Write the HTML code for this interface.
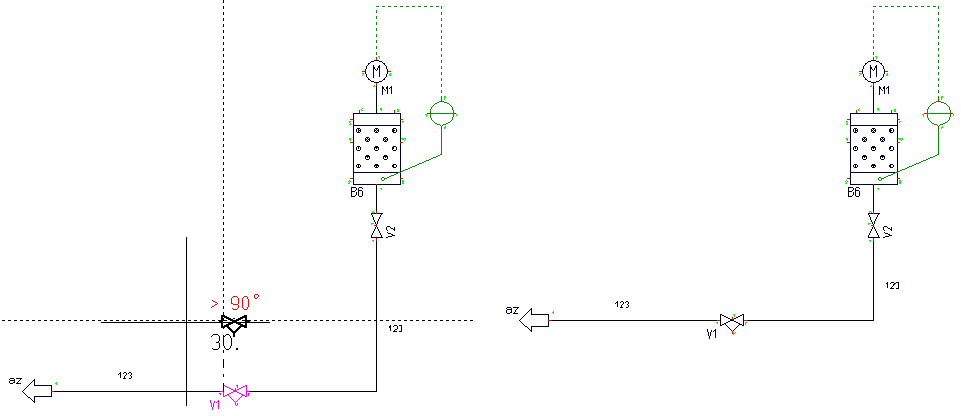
<!DOCTYPE html>
<html><head><meta charset="utf-8"><style>
html,body{margin:0;padding:0;background:#fff;width:961px;height:416px;overflow:hidden}
svg{position:absolute;left:0;top:0}
</style></head><body>
<svg width="961" height="416" viewBox="0 0 961 416" shape-rendering="crispEdges">
<rect x="376" y="6" width="3" height="1" fill="#009600"/>
<rect x="382" y="6" width="3" height="1" fill="#009600"/>
<rect x="388" y="6" width="3" height="1" fill="#009600"/>
<rect x="394" y="6" width="3" height="1" fill="#009600"/>
<rect x="400" y="6" width="3" height="1" fill="#009600"/>
<rect x="406" y="6" width="3" height="1" fill="#009600"/>
<rect x="412" y="6" width="3" height="1" fill="#009600"/>
<rect x="418" y="6" width="3" height="1" fill="#009600"/>
<rect x="424" y="6" width="3" height="1" fill="#009600"/>
<rect x="430" y="6" width="3" height="1" fill="#009600"/>
<rect x="436" y="6" width="3" height="1" fill="#009600"/>
<rect x="376" y="10" width="1" height="3" fill="#009600"/>
<rect x="376" y="16" width="1" height="3" fill="#009600"/>
<rect x="376" y="22" width="1" height="3" fill="#009600"/>
<rect x="376" y="28" width="1" height="3" fill="#009600"/>
<rect x="376" y="34" width="1" height="3" fill="#009600"/>
<rect x="376" y="40" width="1" height="3" fill="#009600"/>
<rect x="376" y="46" width="1" height="3" fill="#009600"/>
<rect x="376" y="52" width="1" height="3" fill="#009600"/>
<rect x="441" y="6" width="1" height="3" fill="#009600"/>
<rect x="441" y="12" width="1" height="3" fill="#009600"/>
<rect x="441" y="18" width="1" height="3" fill="#009600"/>
<rect x="441" y="24" width="1" height="3" fill="#009600"/>
<rect x="441" y="30" width="1" height="3" fill="#009600"/>
<rect x="441" y="36" width="1" height="3" fill="#009600"/>
<rect x="441" y="42" width="1" height="3" fill="#009600"/>
<rect x="441" y="48" width="1" height="3" fill="#009600"/>
<rect x="441" y="54" width="1" height="3" fill="#009600"/>
<rect x="441" y="60" width="1" height="3" fill="#009600"/>
<rect x="441" y="66" width="1" height="3" fill="#009600"/>
<rect x="441" y="72" width="1" height="3" fill="#009600"/>
<rect x="441" y="78" width="1" height="3" fill="#009600"/>
<rect x="441" y="84" width="1" height="3" fill="#009600"/>
<rect x="441" y="90" width="1" height="3" fill="#009600"/>
<rect x="441" y="96" width="1" height="3" fill="#009600"/>
<rect x="365" y="69" width="1" height="1" fill="#000028"/>
<rect x="365" y="70" width="1" height="1" fill="#000028"/>
<rect x="365" y="71" width="1" height="1" fill="#000028"/>
<rect x="365" y="72" width="1" height="1" fill="#000028"/>
<rect x="365" y="73" width="1" height="1" fill="#000028"/>
<rect x="366" y="66" width="1" height="1" fill="#000028"/>
<rect x="366" y="67" width="1" height="1" fill="#000028"/>
<rect x="366" y="68" width="1" height="1" fill="#000028"/>
<rect x="366" y="74" width="1" height="1" fill="#000028"/>
<rect x="366" y="75" width="1" height="1" fill="#000028"/>
<rect x="366" y="76" width="1" height="1" fill="#000028"/>
<rect x="367" y="65" width="1" height="1" fill="#000028"/>
<rect x="367" y="77" width="1" height="1" fill="#000028"/>
<rect x="368" y="63" width="1" height="1" fill="#000028"/>
<rect x="368" y="64" width="1" height="1" fill="#000028"/>
<rect x="368" y="78" width="1" height="1" fill="#000028"/>
<rect x="368" y="79" width="1" height="1" fill="#000028"/>
<rect x="369" y="63" width="1" height="1" fill="#000028"/>
<rect x="369" y="79" width="1" height="1" fill="#000028"/>
<rect x="370" y="62" width="1" height="1" fill="#000028"/>
<rect x="370" y="80" width="1" height="1" fill="#000028"/>
<rect x="371" y="61" width="1" height="1" fill="#000028"/>
<rect x="371" y="81" width="1" height="1" fill="#000028"/>
<rect x="372" y="61" width="1" height="1" fill="#000028"/>
<rect x="372" y="81" width="1" height="1" fill="#000028"/>
<rect x="373" y="61" width="1" height="1" fill="#000028"/>
<rect x="373" y="81" width="1" height="1" fill="#000028"/>
<rect x="374" y="60" width="1" height="1" fill="#000028"/>
<rect x="374" y="82" width="1" height="1" fill="#000028"/>
<rect x="375" y="60" width="1" height="1" fill="#000028"/>
<rect x="375" y="82" width="1" height="1" fill="#000028"/>
<rect x="376" y="60" width="1" height="1" fill="#000028"/>
<rect x="376" y="82" width="1" height="1" fill="#000028"/>
<rect x="377" y="60" width="1" height="1" fill="#000028"/>
<rect x="377" y="82" width="1" height="1" fill="#000028"/>
<rect x="378" y="60" width="1" height="1" fill="#000028"/>
<rect x="378" y="82" width="1" height="1" fill="#000028"/>
<rect x="379" y="61" width="1" height="1" fill="#000028"/>
<rect x="379" y="81" width="1" height="1" fill="#000028"/>
<rect x="380" y="61" width="1" height="1" fill="#000028"/>
<rect x="380" y="81" width="1" height="1" fill="#000028"/>
<rect x="381" y="61" width="1" height="1" fill="#000028"/>
<rect x="381" y="81" width="1" height="1" fill="#000028"/>
<rect x="382" y="62" width="1" height="1" fill="#000028"/>
<rect x="382" y="80" width="1" height="1" fill="#000028"/>
<rect x="383" y="63" width="1" height="1" fill="#000028"/>
<rect x="383" y="79" width="1" height="1" fill="#000028"/>
<rect x="384" y="63" width="1" height="1" fill="#000028"/>
<rect x="384" y="64" width="1" height="1" fill="#000028"/>
<rect x="384" y="78" width="1" height="1" fill="#000028"/>
<rect x="384" y="79" width="1" height="1" fill="#000028"/>
<rect x="385" y="65" width="1" height="1" fill="#000028"/>
<rect x="385" y="77" width="1" height="1" fill="#000028"/>
<rect x="386" y="66" width="1" height="1" fill="#000028"/>
<rect x="386" y="67" width="1" height="1" fill="#000028"/>
<rect x="386" y="68" width="1" height="1" fill="#000028"/>
<rect x="386" y="74" width="1" height="1" fill="#000028"/>
<rect x="386" y="75" width="1" height="1" fill="#000028"/>
<rect x="386" y="76" width="1" height="1" fill="#000028"/>
<rect x="387" y="69" width="1" height="1" fill="#000028"/>
<rect x="387" y="70" width="1" height="1" fill="#000028"/>
<rect x="387" y="71" width="1" height="1" fill="#000028"/>
<rect x="387" y="72" width="1" height="1" fill="#000028"/>
<rect x="387" y="73" width="1" height="1" fill="#000028"/>
<rect x="373" y="65" width="1" height="1" fill="#000028"/>
<rect x="379" y="65" width="1" height="1" fill="#000028"/>
<rect x="373" y="66" width="1" height="1" fill="#000028"/>
<rect x="378" y="66" width="2" height="1" fill="#000028"/>
<rect x="373" y="67" width="2" height="1" fill="#000028"/>
<rect x="378" y="67" width="2" height="1" fill="#000028"/>
<rect x="373" y="68" width="2" height="1" fill="#000028"/>
<rect x="377" y="68" width="1" height="1" fill="#000028"/>
<rect x="379" y="68" width="1" height="1" fill="#000028"/>
<rect x="373" y="69" width="1" height="1" fill="#000028"/>
<rect x="375" y="69" width="1" height="1" fill="#000028"/>
<rect x="377" y="69" width="1" height="1" fill="#000028"/>
<rect x="379" y="69" width="1" height="1" fill="#000028"/>
<rect x="373" y="70" width="1" height="1" fill="#000028"/>
<rect x="376" y="70" width="1" height="1" fill="#000028"/>
<rect x="379" y="70" width="1" height="1" fill="#000028"/>
<rect x="373" y="71" width="1" height="1" fill="#000028"/>
<rect x="379" y="71" width="1" height="1" fill="#000028"/>
<rect x="373" y="72" width="1" height="1" fill="#000028"/>
<rect x="379" y="72" width="1" height="1" fill="#000028"/>
<rect x="373" y="73" width="1" height="1" fill="#000028"/>
<rect x="379" y="73" width="1" height="1" fill="#000028"/>
<rect x="373" y="74" width="1" height="1" fill="#000028"/>
<rect x="379" y="74" width="1" height="1" fill="#000028"/>
<rect x="373" y="75" width="1" height="1" fill="#000028"/>
<rect x="379" y="75" width="1" height="1" fill="#000028"/>
<rect x="373" y="76" width="1" height="1" fill="#000028"/>
<rect x="379" y="76" width="1" height="1" fill="#000028"/>
<rect x="373" y="77" width="1" height="1" fill="#000028"/>
<rect x="376" y="57" width="1" height="3" fill="#ff0000"/>
<rect x="362" y="71" width="3" height="1" fill="#ff0000"/>
<rect x="388" y="71" width="3" height="1" fill="#ff0000"/>
<rect x="376" y="83" width="1" height="3" fill="#ff0000"/>
<rect x="378" y="56" width="2" height="1" fill="#00ff00"/>
<rect x="379" y="57" width="1" height="1" fill="#00ff00"/>
<rect x="379" y="58" width="1" height="1" fill="#00ff00"/>
<rect x="362" y="73" width="2" height="1" fill="#00ff00"/>
<rect x="363" y="74" width="1" height="1" fill="#00ff00"/>
<rect x="362" y="75" width="1" height="1" fill="#00ff00"/>
<rect x="390" y="73" width="1" height="1" fill="#00ff00"/>
<rect x="389" y="74" width="2" height="1" fill="#00ff00"/>
<rect x="389" y="75" width="2" height="1" fill="#00ff00"/>
<rect x="374" y="85" width="1" height="1" fill="#00ff00"/>
<rect x="373" y="86" width="2" height="1" fill="#00ff00"/>
<rect x="376" y="86" width="1" height="27" fill="#000"/>
<rect x="382" y="86" width="1" height="1" fill="#000028"/>
<rect x="387" y="86" width="1" height="1" fill="#000028"/>
<rect x="391" y="86" width="1" height="1" fill="#000028"/>
<rect x="382" y="87" width="2" height="1" fill="#000028"/>
<rect x="386" y="87" width="2" height="1" fill="#000028"/>
<rect x="390" y="87" width="2" height="1" fill="#000028"/>
<rect x="382" y="88" width="2" height="1" fill="#000028"/>
<rect x="386" y="88" width="2" height="1" fill="#000028"/>
<rect x="389" y="88" width="1" height="1" fill="#000028"/>
<rect x="391" y="88" width="1" height="1" fill="#000028"/>
<rect x="382" y="89" width="1" height="1" fill="#000028"/>
<rect x="384" y="89" width="1" height="1" fill="#000028"/>
<rect x="387" y="89" width="1" height="1" fill="#000028"/>
<rect x="391" y="89" width="1" height="1" fill="#000028"/>
<rect x="382" y="90" width="1" height="1" fill="#000028"/>
<rect x="385" y="90" width="1" height="1" fill="#000028"/>
<rect x="387" y="90" width="1" height="1" fill="#000028"/>
<rect x="391" y="90" width="1" height="1" fill="#000028"/>
<rect x="382" y="91" width="1" height="1" fill="#000028"/>
<rect x="387" y="91" width="1" height="1" fill="#000028"/>
<rect x="391" y="91" width="1" height="1" fill="#000028"/>
<rect x="382" y="92" width="1" height="1" fill="#000028"/>
<rect x="387" y="92" width="1" height="1" fill="#000028"/>
<rect x="391" y="92" width="1" height="1" fill="#000028"/>
<rect x="382" y="93" width="1" height="1" fill="#000028"/>
<rect x="387" y="93" width="1" height="1" fill="#000028"/>
<rect x="391" y="93" width="1" height="1" fill="#000028"/>
<rect x="382" y="94" width="1" height="1" fill="#000028"/>
<rect x="353" y="113" width="48" height="1" fill="#000028"/>
<rect x="353" y="184" width="48" height="1" fill="#000028"/>
<rect x="353" y="113" width="1" height="72" fill="#000028"/>
<rect x="400" y="113" width="1" height="72" fill="#000028"/>
<rect x="353" y="125" width="48" height="1" fill="#000028"/>
<rect x="353" y="172" width="48" height="1" fill="#000028"/>
<rect x="357" y="128" width="3" height="1" fill="#000028"/>
<rect x="356" y="129" width="1" height="1" fill="#000028"/>
<rect x="360" y="129" width="1" height="1" fill="#000028"/>
<rect x="356" y="130" width="1" height="1" fill="#000028"/>
<rect x="360" y="130" width="1" height="1" fill="#000028"/>
<rect x="356" y="131" width="1" height="1" fill="#000028"/>
<rect x="360" y="131" width="1" height="1" fill="#000028"/>
<rect x="357" y="132" width="3" height="1" fill="#000028"/>
<rect x="358" y="129" width="1" height="1" fill="#000028"/>
<rect x="358" y="130" width="2" height="1" fill="#000028"/>
<rect x="358" y="131" width="1" height="1" fill="#000028"/>
<rect x="375" y="128" width="3" height="1" fill="#000028"/>
<rect x="374" y="129" width="1" height="1" fill="#000028"/>
<rect x="378" y="129" width="1" height="1" fill="#000028"/>
<rect x="374" y="130" width="1" height="1" fill="#000028"/>
<rect x="378" y="130" width="1" height="1" fill="#000028"/>
<rect x="374" y="131" width="1" height="1" fill="#000028"/>
<rect x="378" y="131" width="1" height="1" fill="#000028"/>
<rect x="375" y="132" width="3" height="1" fill="#000028"/>
<rect x="376" y="129" width="1" height="1" fill="#000028"/>
<rect x="375" y="130" width="1" height="1" fill="#000028"/>
<rect x="377" y="130" width="1" height="1" fill="#000028"/>
<rect x="376" y="131" width="1" height="1" fill="#000028"/>
<rect x="393" y="128" width="3" height="1" fill="#000028"/>
<rect x="392" y="129" width="1" height="1" fill="#000028"/>
<rect x="396" y="129" width="1" height="1" fill="#000028"/>
<rect x="392" y="130" width="1" height="1" fill="#000028"/>
<rect x="396" y="130" width="1" height="1" fill="#000028"/>
<rect x="392" y="131" width="1" height="1" fill="#000028"/>
<rect x="396" y="131" width="1" height="1" fill="#000028"/>
<rect x="393" y="132" width="3" height="1" fill="#000028"/>
<rect x="393" y="129" width="1" height="1" fill="#000028"/>
<rect x="393" y="130" width="2" height="1" fill="#000028"/>
<rect x="393" y="131" width="1" height="1" fill="#000028"/>
<rect x="366" y="137" width="3" height="1" fill="#000028"/>
<rect x="365" y="138" width="1" height="1" fill="#000028"/>
<rect x="369" y="138" width="1" height="1" fill="#000028"/>
<rect x="365" y="139" width="1" height="1" fill="#000028"/>
<rect x="369" y="139" width="1" height="1" fill="#000028"/>
<rect x="365" y="140" width="1" height="1" fill="#000028"/>
<rect x="369" y="140" width="1" height="1" fill="#000028"/>
<rect x="366" y="141" width="3" height="1" fill="#000028"/>
<rect x="367" y="138" width="1" height="1" fill="#000028"/>
<rect x="366" y="139" width="1" height="1" fill="#000028"/>
<rect x="368" y="139" width="1" height="1" fill="#000028"/>
<rect x="367" y="140" width="1" height="1" fill="#000028"/>
<rect x="384" y="137" width="3" height="1" fill="#000028"/>
<rect x="383" y="138" width="1" height="1" fill="#000028"/>
<rect x="387" y="138" width="1" height="1" fill="#000028"/>
<rect x="383" y="139" width="1" height="1" fill="#000028"/>
<rect x="387" y="139" width="1" height="1" fill="#000028"/>
<rect x="383" y="140" width="1" height="1" fill="#000028"/>
<rect x="387" y="140" width="1" height="1" fill="#000028"/>
<rect x="384" y="141" width="3" height="1" fill="#000028"/>
<rect x="385" y="138" width="1" height="1" fill="#000028"/>
<rect x="384" y="139" width="1" height="1" fill="#000028"/>
<rect x="386" y="139" width="1" height="1" fill="#000028"/>
<rect x="385" y="140" width="1" height="1" fill="#000028"/>
<rect x="357" y="146" width="3" height="1" fill="#000028"/>
<rect x="356" y="147" width="1" height="1" fill="#000028"/>
<rect x="360" y="147" width="1" height="1" fill="#000028"/>
<rect x="356" y="148" width="1" height="1" fill="#000028"/>
<rect x="360" y="148" width="1" height="1" fill="#000028"/>
<rect x="356" y="149" width="1" height="1" fill="#000028"/>
<rect x="360" y="149" width="1" height="1" fill="#000028"/>
<rect x="357" y="150" width="3" height="1" fill="#000028"/>
<rect x="358" y="147" width="1" height="1" fill="#000028"/>
<rect x="358" y="148" width="1" height="1" fill="#000028"/>
<rect x="375" y="146" width="3" height="1" fill="#000028"/>
<rect x="374" y="147" width="1" height="1" fill="#000028"/>
<rect x="378" y="147" width="1" height="1" fill="#000028"/>
<rect x="374" y="148" width="1" height="1" fill="#000028"/>
<rect x="378" y="148" width="1" height="1" fill="#000028"/>
<rect x="374" y="149" width="1" height="1" fill="#000028"/>
<rect x="378" y="149" width="1" height="1" fill="#000028"/>
<rect x="375" y="150" width="3" height="1" fill="#000028"/>
<rect x="375" y="147" width="3" height="1" fill="#000028"/>
<rect x="376" y="148" width="1" height="1" fill="#000028"/>
<rect x="393" y="146" width="3" height="1" fill="#000028"/>
<rect x="392" y="147" width="1" height="1" fill="#000028"/>
<rect x="396" y="147" width="1" height="1" fill="#000028"/>
<rect x="392" y="148" width="1" height="1" fill="#000028"/>
<rect x="396" y="148" width="1" height="1" fill="#000028"/>
<rect x="392" y="149" width="1" height="1" fill="#000028"/>
<rect x="396" y="149" width="1" height="1" fill="#000028"/>
<rect x="393" y="150" width="3" height="1" fill="#000028"/>
<rect x="393" y="147" width="1" height="1" fill="#000028"/>
<rect x="393" y="148" width="1" height="1" fill="#000028"/>
<rect x="366" y="155" width="3" height="1" fill="#000028"/>
<rect x="365" y="156" width="1" height="1" fill="#000028"/>
<rect x="369" y="156" width="1" height="1" fill="#000028"/>
<rect x="365" y="157" width="1" height="1" fill="#000028"/>
<rect x="369" y="157" width="1" height="1" fill="#000028"/>
<rect x="365" y="158" width="1" height="1" fill="#000028"/>
<rect x="369" y="158" width="1" height="1" fill="#000028"/>
<rect x="366" y="159" width="3" height="1" fill="#000028"/>
<rect x="366" y="156" width="3" height="1" fill="#000028"/>
<rect x="367" y="157" width="1" height="1" fill="#000028"/>
<rect x="384" y="155" width="3" height="1" fill="#000028"/>
<rect x="383" y="156" width="1" height="1" fill="#000028"/>
<rect x="387" y="156" width="1" height="1" fill="#000028"/>
<rect x="383" y="157" width="1" height="1" fill="#000028"/>
<rect x="387" y="157" width="1" height="1" fill="#000028"/>
<rect x="383" y="158" width="1" height="1" fill="#000028"/>
<rect x="387" y="158" width="1" height="1" fill="#000028"/>
<rect x="384" y="159" width="3" height="1" fill="#000028"/>
<rect x="384" y="156" width="3" height="1" fill="#000028"/>
<rect x="385" y="157" width="1" height="1" fill="#000028"/>
<rect x="357" y="164" width="3" height="1" fill="#000028"/>
<rect x="356" y="165" width="1" height="1" fill="#000028"/>
<rect x="358" y="165" width="1" height="1" fill="#000028"/>
<rect x="360" y="165" width="1" height="1" fill="#000028"/>
<rect x="356" y="166" width="1" height="1" fill="#000028"/>
<rect x="358" y="166" width="1" height="1" fill="#000028"/>
<rect x="360" y="166" width="1" height="1" fill="#000028"/>
<rect x="357" y="167" width="3" height="1" fill="#000028"/>
<rect x="375" y="164" width="3" height="1" fill="#000028"/>
<rect x="374" y="165" width="5" height="1" fill="#000028"/>
<rect x="374" y="166" width="1" height="1" fill="#000028"/>
<rect x="376" y="166" width="1" height="1" fill="#000028"/>
<rect x="378" y="166" width="1" height="1" fill="#000028"/>
<rect x="375" y="167" width="3" height="1" fill="#000028"/>
<rect x="393" y="164" width="3" height="1" fill="#000028"/>
<rect x="392" y="165" width="2" height="1" fill="#000028"/>
<rect x="396" y="165" width="1" height="1" fill="#000028"/>
<rect x="392" y="166" width="2" height="1" fill="#000028"/>
<rect x="396" y="166" width="1" height="1" fill="#000028"/>
<rect x="393" y="167" width="3" height="1" fill="#000028"/>
<rect x="359" y="110" width="1" height="3" fill="#ff0000"/>
<rect x="394" y="110" width="1" height="3" fill="#ff0000"/>
<rect x="350" y="119" width="3" height="1" fill="#ff0000"/>
<rect x="400" y="119" width="3" height="1" fill="#ff0000"/>
<rect x="350" y="142" width="3" height="1" fill="#ff0000"/>
<rect x="400" y="142" width="3" height="1" fill="#ff0000"/>
<rect x="350" y="178" width="3" height="1" fill="#ff0000"/>
<rect x="400" y="178" width="3" height="1" fill="#ff0000"/>
<rect x="376" y="184" width="1" height="1" fill="#ff0000"/>
<rect x="362" y="108" width="1" height="1" fill="#00ff00"/>
<rect x="361" y="109" width="1" height="1" fill="#00ff00"/>
<rect x="361" y="110" width="2" height="1" fill="#00ff00"/>
<rect x="380" y="108" width="2" height="1" fill="#00ff00"/>
<rect x="380" y="109" width="2" height="1" fill="#00ff00"/>
<rect x="381" y="110" width="1" height="1" fill="#00ff00"/>
<rect x="397" y="109" width="2" height="1" fill="#00ff00"/>
<rect x="397" y="110" width="2" height="1" fill="#00ff00"/>
<rect x="397" y="111" width="2" height="1" fill="#00ff00"/>
<rect x="349" y="121" width="2" height="1" fill="#00ff00"/>
<rect x="349" y="122" width="1" height="1" fill="#00ff00"/>
<rect x="350" y="123" width="1" height="1" fill="#00ff00"/>
<rect x="349" y="124" width="2" height="1" fill="#00ff00"/>
<rect x="349" y="138" width="2" height="1" fill="#00ff00"/>
<rect x="349" y="139" width="2" height="1" fill="#00ff00"/>
<rect x="350" y="140" width="1" height="1" fill="#00ff00"/>
<rect x="349" y="180" width="1" height="1" fill="#00ff00"/>
<rect x="348" y="181" width="1" height="1" fill="#00ff00"/>
<rect x="350" y="181" width="1" height="1" fill="#00ff00"/>
<rect x="349" y="182" width="1" height="1" fill="#00ff00"/>
<rect x="348" y="183" width="2" height="1" fill="#00ff00"/>
<rect x="402" y="121" width="2" height="1" fill="#00ff00"/>
<rect x="402" y="122" width="1" height="1" fill="#00ff00"/>
<rect x="401" y="138" width="5" height="1" fill="#00ff00"/>
<rect x="402" y="139" width="2" height="1" fill="#00ff00"/>
<rect x="405" y="139" width="1" height="1" fill="#00ff00"/>
<rect x="404" y="140" width="1" height="1" fill="#00ff00"/>
<rect x="402" y="180" width="2" height="1" fill="#00ff00"/>
<rect x="402" y="181" width="2" height="1" fill="#00ff00"/>
<rect x="402" y="182" width="2" height="1" fill="#00ff00"/>
<rect x="402" y="183" width="2" height="1" fill="#00ff00"/>
<rect x="380" y="188" width="2" height="1" fill="#00ff00"/>
<rect x="381" y="189" width="1" height="1" fill="#00ff00"/>
<rect x="351" y="187" width="5" height="1" fill="#000028"/>
<rect x="359" y="187" width="3" height="1" fill="#000028"/>
<rect x="351" y="188" width="1" height="1" fill="#000028"/>
<rect x="356" y="188" width="1" height="1" fill="#000028"/>
<rect x="358" y="188" width="1" height="1" fill="#000028"/>
<rect x="362" y="188" width="1" height="1" fill="#000028"/>
<rect x="351" y="189" width="1" height="1" fill="#000028"/>
<rect x="356" y="189" width="1" height="1" fill="#000028"/>
<rect x="358" y="189" width="1" height="1" fill="#000028"/>
<rect x="351" y="190" width="1" height="1" fill="#000028"/>
<rect x="355" y="190" width="1" height="1" fill="#000028"/>
<rect x="358" y="190" width="4" height="1" fill="#000028"/>
<rect x="351" y="191" width="4" height="1" fill="#000028"/>
<rect x="358" y="191" width="1" height="1" fill="#000028"/>
<rect x="362" y="191" width="1" height="1" fill="#000028"/>
<rect x="351" y="192" width="1" height="1" fill="#000028"/>
<rect x="356" y="192" width="1" height="1" fill="#000028"/>
<rect x="358" y="192" width="1" height="1" fill="#000028"/>
<rect x="362" y="192" width="1" height="1" fill="#000028"/>
<rect x="351" y="193" width="1" height="1" fill="#000028"/>
<rect x="356" y="193" width="1" height="1" fill="#000028"/>
<rect x="358" y="193" width="1" height="1" fill="#000028"/>
<rect x="362" y="193" width="1" height="1" fill="#000028"/>
<rect x="351" y="194" width="1" height="1" fill="#000028"/>
<rect x="356" y="194" width="1" height="1" fill="#000028"/>
<rect x="358" y="194" width="1" height="1" fill="#000028"/>
<rect x="362" y="194" width="1" height="1" fill="#000028"/>
<rect x="351" y="195" width="1" height="1" fill="#000028"/>
<rect x="355" y="195" width="1" height="1" fill="#000028"/>
<rect x="358" y="195" width="1" height="1" fill="#000028"/>
<rect x="362" y="195" width="1" height="1" fill="#000028"/>
<rect x="351" y="196" width="4" height="1" fill="#000028"/>
<rect x="359" y="196" width="3" height="1" fill="#000028"/>
<rect x="439" y="101" width="1" height="1" fill="#009600"/>
<rect x="440" y="101" width="1" height="1" fill="#009600"/>
<rect x="437" y="102" width="1" height="1" fill="#009600"/>
<rect x="438" y="102" width="1" height="1" fill="#009600"/>
<rect x="435" y="103" width="1" height="1" fill="#009600"/>
<rect x="436" y="103" width="1" height="1" fill="#009600"/>
<rect x="434" y="104" width="1" height="1" fill="#009600"/>
<rect x="433" y="105" width="1" height="1" fill="#009600"/>
<rect x="432" y="106" width="1" height="1" fill="#009600"/>
<rect x="431" y="107" width="1" height="1" fill="#009600"/>
<rect x="431" y="108" width="1" height="1" fill="#009600"/>
<rect x="430" y="109" width="1" height="1" fill="#009600"/>
<rect x="430" y="110" width="1" height="1" fill="#009600"/>
<rect x="430" y="111" width="1" height="1" fill="#009600"/>
<rect x="430" y="112" width="1" height="1" fill="#009600"/>
<rect x="442" y="101" width="1" height="1" fill="#009600"/>
<rect x="443" y="101" width="1" height="1" fill="#009600"/>
<rect x="444" y="102" width="1" height="1" fill="#009600"/>
<rect x="445" y="102" width="1" height="1" fill="#009600"/>
<rect x="446" y="102" width="1" height="1" fill="#009600"/>
<rect x="447" y="103" width="1" height="1" fill="#009600"/>
<rect x="448" y="103" width="1" height="1" fill="#009600"/>
<rect x="449" y="104" width="1" height="1" fill="#009600"/>
<rect x="450" y="105" width="1" height="1" fill="#009600"/>
<rect x="451" y="106" width="1" height="1" fill="#009600"/>
<rect x="452" y="107" width="1" height="1" fill="#009600"/>
<rect x="452" y="108" width="1" height="1" fill="#009600"/>
<rect x="452" y="109" width="1" height="1" fill="#009600"/>
<rect x="453" y="110" width="1" height="1" fill="#009600"/>
<rect x="453" y="111" width="1" height="1" fill="#009600"/>
<rect x="453" y="112" width="1" height="1" fill="#009600"/>
<rect x="430" y="114" width="1" height="1" fill="#009600"/>
<rect x="430" y="115" width="1" height="1" fill="#009600"/>
<rect x="430" y="116" width="1" height="1" fill="#009600"/>
<rect x="430" y="117" width="1" height="1" fill="#009600"/>
<rect x="431" y="118" width="1" height="1" fill="#009600"/>
<rect x="431" y="119" width="1" height="1" fill="#009600"/>
<rect x="432" y="120" width="1" height="1" fill="#009600"/>
<rect x="433" y="121" width="1" height="1" fill="#009600"/>
<rect x="434" y="122" width="1" height="1" fill="#009600"/>
<rect x="435" y="123" width="1" height="1" fill="#009600"/>
<rect x="436" y="123" width="1" height="1" fill="#009600"/>
<rect x="437" y="124" width="1" height="1" fill="#009600"/>
<rect x="438" y="124" width="1" height="1" fill="#009600"/>
<rect x="439" y="124" width="1" height="1" fill="#009600"/>
<rect x="440" y="125" width="1" height="1" fill="#009600"/>
<rect x="453" y="114" width="1" height="1" fill="#009600"/>
<rect x="453" y="115" width="1" height="1" fill="#009600"/>
<rect x="453" y="116" width="1" height="1" fill="#009600"/>
<rect x="452" y="117" width="1" height="1" fill="#009600"/>
<rect x="452" y="118" width="1" height="1" fill="#009600"/>
<rect x="452" y="119" width="1" height="1" fill="#009600"/>
<rect x="451" y="120" width="1" height="1" fill="#009600"/>
<rect x="450" y="121" width="1" height="1" fill="#009600"/>
<rect x="448" y="122" width="1" height="1" fill="#009600"/>
<rect x="449" y="122" width="1" height="1" fill="#009600"/>
<rect x="446" y="123" width="1" height="1" fill="#009600"/>
<rect x="447" y="123" width="1" height="1" fill="#009600"/>
<rect x="443" y="124" width="1" height="1" fill="#009600"/>
<rect x="444" y="124" width="1" height="1" fill="#009600"/>
<rect x="445" y="124" width="1" height="1" fill="#009600"/>
<rect x="442" y="125" width="1" height="1" fill="#009600"/>
<rect x="430" y="113" width="23" height="1" fill="#009600"/>
<rect x="441" y="99" width="1" height="3" fill="#ff0000"/>
<rect x="427" y="113" width="3" height="1" fill="#ff0000"/>
<rect x="453" y="113" width="3" height="1" fill="#ff0000"/>
<rect x="441" y="126" width="1" height="3" fill="#ff0000"/>
<rect x="444" y="96" width="2" height="1" fill="#00ff00"/>
<rect x="444" y="97" width="2" height="1" fill="#00ff00"/>
<rect x="444" y="98" width="1" height="1" fill="#00ff00"/>
<rect x="444" y="99" width="1" height="1" fill="#00ff00"/>
<rect x="425" y="114" width="2" height="1" fill="#00ff00"/>
<rect x="426" y="115" width="1" height="1" fill="#00ff00"/>
<rect x="426" y="116" width="1" height="1" fill="#00ff00"/>
<rect x="456" y="114" width="1" height="1" fill="#00ff00"/>
<rect x="456" y="115" width="1" height="1" fill="#00ff00"/>
<rect x="445" y="126" width="1" height="1" fill="#00ff00"/>
<rect x="444" y="127" width="2" height="1" fill="#00ff00"/>
<rect x="444" y="128" width="1" height="1" fill="#00ff00"/>
<rect x="441" y="129" width="1" height="26" fill="#009600"/>
<rect x="385" y="178" width="1" height="1" fill="#009600"/>
<rect x="386" y="178" width="1" height="1" fill="#009600"/>
<rect x="387" y="177" width="1" height="1" fill="#009600"/>
<rect x="388" y="177" width="1" height="1" fill="#009600"/>
<rect x="389" y="176" width="1" height="1" fill="#009600"/>
<rect x="390" y="176" width="1" height="1" fill="#009600"/>
<rect x="391" y="175" width="1" height="1" fill="#009600"/>
<rect x="392" y="175" width="1" height="1" fill="#009600"/>
<rect x="393" y="175" width="1" height="1" fill="#009600"/>
<rect x="394" y="174" width="1" height="1" fill="#009600"/>
<rect x="395" y="174" width="1" height="1" fill="#009600"/>
<rect x="396" y="173" width="1" height="1" fill="#009600"/>
<rect x="397" y="173" width="1" height="1" fill="#009600"/>
<rect x="398" y="172" width="1" height="1" fill="#009600"/>
<rect x="399" y="172" width="1" height="1" fill="#009600"/>
<rect x="400" y="172" width="1" height="1" fill="#009600"/>
<rect x="401" y="171" width="1" height="1" fill="#009600"/>
<rect x="402" y="171" width="1" height="1" fill="#009600"/>
<rect x="403" y="170" width="1" height="1" fill="#009600"/>
<rect x="404" y="170" width="1" height="1" fill="#009600"/>
<rect x="405" y="169" width="1" height="1" fill="#009600"/>
<rect x="406" y="169" width="1" height="1" fill="#009600"/>
<rect x="407" y="169" width="1" height="1" fill="#009600"/>
<rect x="408" y="168" width="1" height="1" fill="#009600"/>
<rect x="409" y="168" width="1" height="1" fill="#009600"/>
<rect x="410" y="167" width="1" height="1" fill="#009600"/>
<rect x="411" y="167" width="1" height="1" fill="#009600"/>
<rect x="412" y="166" width="1" height="1" fill="#009600"/>
<rect x="413" y="166" width="1" height="1" fill="#009600"/>
<rect x="414" y="166" width="1" height="1" fill="#009600"/>
<rect x="415" y="165" width="1" height="1" fill="#009600"/>
<rect x="416" y="165" width="1" height="1" fill="#009600"/>
<rect x="417" y="164" width="1" height="1" fill="#009600"/>
<rect x="418" y="164" width="1" height="1" fill="#009600"/>
<rect x="419" y="163" width="1" height="1" fill="#009600"/>
<rect x="420" y="163" width="1" height="1" fill="#009600"/>
<rect x="421" y="163" width="1" height="1" fill="#009600"/>
<rect x="422" y="162" width="1" height="1" fill="#009600"/>
<rect x="423" y="162" width="1" height="1" fill="#009600"/>
<rect x="424" y="161" width="1" height="1" fill="#009600"/>
<rect x="425" y="161" width="1" height="1" fill="#009600"/>
<rect x="426" y="160" width="1" height="1" fill="#009600"/>
<rect x="427" y="160" width="1" height="1" fill="#009600"/>
<rect x="428" y="160" width="1" height="1" fill="#009600"/>
<rect x="429" y="159" width="1" height="1" fill="#009600"/>
<rect x="430" y="159" width="1" height="1" fill="#009600"/>
<rect x="431" y="158" width="1" height="1" fill="#009600"/>
<rect x="432" y="158" width="1" height="1" fill="#009600"/>
<rect x="433" y="157" width="1" height="1" fill="#009600"/>
<rect x="434" y="157" width="1" height="1" fill="#009600"/>
<rect x="435" y="157" width="1" height="1" fill="#009600"/>
<rect x="436" y="156" width="1" height="1" fill="#009600"/>
<rect x="437" y="156" width="1" height="1" fill="#009600"/>
<rect x="438" y="155" width="1" height="1" fill="#009600"/>
<rect x="439" y="155" width="1" height="1" fill="#009600"/>
<rect x="440" y="154" width="1" height="1" fill="#009600"/>
<rect x="441" y="154" width="1" height="1" fill="#009600"/>
<rect x="382" y="177" width="2" height="1" fill="#009600"/>
<rect x="381" y="178" width="1" height="1" fill="#009600"/>
<rect x="384" y="178" width="1" height="1" fill="#009600"/>
<rect x="381" y="179" width="1" height="1" fill="#009600"/>
<rect x="384" y="179" width="1" height="1" fill="#009600"/>
<rect x="382" y="180" width="2" height="1" fill="#009600"/>
<rect x="376" y="185" width="1" height="26" fill="#000"/>
<rect x="371" y="213" width="12" height="1" fill="#000028"/>
<rect x="371" y="237" width="12" height="1" fill="#000028"/>
<rect x="371" y="214" width="1" height="1" fill="#000028"/>
<rect x="372" y="215" width="1" height="1" fill="#000028"/>
<rect x="372" y="216" width="1" height="1" fill="#000028"/>
<rect x="373" y="217" width="1" height="1" fill="#000028"/>
<rect x="373" y="218" width="1" height="1" fill="#000028"/>
<rect x="373" y="219" width="1" height="1" fill="#000028"/>
<rect x="374" y="220" width="1" height="1" fill="#000028"/>
<rect x="374" y="221" width="1" height="1" fill="#000028"/>
<rect x="375" y="222" width="1" height="1" fill="#000028"/>
<rect x="375" y="223" width="1" height="1" fill="#000028"/>
<rect x="376" y="224" width="1" height="1" fill="#000028"/>
<rect x="376" y="225" width="1" height="1" fill="#000028"/>
<rect x="376" y="226" width="1" height="1" fill="#000028"/>
<rect x="381" y="214" width="1" height="1" fill="#000028"/>
<rect x="380" y="215" width="1" height="1" fill="#000028"/>
<rect x="380" y="216" width="1" height="1" fill="#000028"/>
<rect x="379" y="217" width="1" height="1" fill="#000028"/>
<rect x="379" y="218" width="1" height="1" fill="#000028"/>
<rect x="378" y="219" width="1" height="1" fill="#000028"/>
<rect x="378" y="220" width="1" height="1" fill="#000028"/>
<rect x="377" y="221" width="1" height="1" fill="#000028"/>
<rect x="377" y="222" width="1" height="1" fill="#000028"/>
<rect x="377" y="223" width="1" height="1" fill="#000028"/>
<rect x="375" y="227" width="1" height="1" fill="#000028"/>
<rect x="375" y="228" width="1" height="1" fill="#000028"/>
<rect x="374" y="229" width="1" height="1" fill="#000028"/>
<rect x="374" y="230" width="1" height="1" fill="#000028"/>
<rect x="373" y="231" width="1" height="1" fill="#000028"/>
<rect x="373" y="232" width="1" height="1" fill="#000028"/>
<rect x="372" y="233" width="1" height="1" fill="#000028"/>
<rect x="372" y="234" width="1" height="1" fill="#000028"/>
<rect x="371" y="235" width="1" height="1" fill="#000028"/>
<rect x="371" y="236" width="1" height="1" fill="#000028"/>
<rect x="377" y="227" width="1" height="1" fill="#000028"/>
<rect x="377" y="228" width="1" height="1" fill="#000028"/>
<rect x="378" y="229" width="1" height="1" fill="#000028"/>
<rect x="378" y="230" width="1" height="1" fill="#000028"/>
<rect x="379" y="231" width="1" height="1" fill="#000028"/>
<rect x="379" y="232" width="1" height="1" fill="#000028"/>
<rect x="380" y="233" width="1" height="1" fill="#000028"/>
<rect x="380" y="234" width="1" height="1" fill="#000028"/>
<rect x="381" y="235" width="1" height="1" fill="#000028"/>
<rect x="381" y="236" width="1" height="1" fill="#000028"/>
<rect x="376" y="211" width="1" height="3" fill="#ff0000"/>
<rect x="374" y="225" width="3" height="1" fill="#ff0000"/>
<rect x="376" y="238" width="1" height="3" fill="#ff0000"/>
<rect x="372" y="211" width="2" height="1" fill="#00ff00"/>
<rect x="372" y="212" width="1" height="1" fill="#00ff00"/>
<rect x="374" y="212" width="1" height="1" fill="#00ff00"/>
<rect x="371" y="223" width="3" height="1" fill="#00ff00"/>
<rect x="371" y="224" width="1" height="1" fill="#00ff00"/>
<rect x="372" y="240" width="2" height="1" fill="#00ff00"/>
<rect x="373" y="241" width="1" height="1" fill="#00ff00"/>
<rect x="387" y="226" width="3" height="1" fill="#000028"/>
<rect x="386" y="227" width="1" height="1" fill="#000028"/>
<rect x="390" y="227" width="1" height="1" fill="#000028"/>
<rect x="394" y="227" width="1" height="1" fill="#000028"/>
<rect x="386" y="228" width="1" height="1" fill="#000028"/>
<rect x="391" y="228" width="2" height="1" fill="#000028"/>
<rect x="394" y="228" width="1" height="1" fill="#000028"/>
<rect x="386" y="229" width="1" height="1" fill="#000028"/>
<rect x="393" y="229" width="2" height="1" fill="#000028"/>
<rect x="387" y="230" width="1" height="1" fill="#000028"/>
<rect x="394" y="230" width="1" height="1" fill="#000028"/>
<rect x="387" y="232" width="1" height="1" fill="#000028"/>
<rect x="388" y="233" width="3" height="1" fill="#000028"/>
<rect x="391" y="234" width="2" height="1" fill="#000028"/>
<rect x="392" y="235" width="3" height="1" fill="#000028"/>
<rect x="388" y="236" width="4" height="1" fill="#000028"/>
<rect x="386" y="237" width="2" height="1" fill="#000028"/>
<rect x="223" y="0" width="1" height="3" fill="#000"/>
<rect x="223" y="6" width="1" height="3" fill="#000"/>
<rect x="223" y="12" width="1" height="3" fill="#000"/>
<rect x="223" y="18" width="1" height="3" fill="#000"/>
<rect x="223" y="24" width="1" height="3" fill="#000"/>
<rect x="223" y="30" width="1" height="3" fill="#000"/>
<rect x="223" y="36" width="1" height="3" fill="#000"/>
<rect x="223" y="42" width="1" height="3" fill="#000"/>
<rect x="223" y="48" width="1" height="3" fill="#000"/>
<rect x="223" y="54" width="1" height="3" fill="#000"/>
<rect x="223" y="60" width="1" height="3" fill="#000"/>
<rect x="223" y="66" width="1" height="3" fill="#000"/>
<rect x="223" y="72" width="1" height="3" fill="#000"/>
<rect x="223" y="78" width="1" height="3" fill="#000"/>
<rect x="223" y="84" width="1" height="3" fill="#000"/>
<rect x="223" y="90" width="1" height="3" fill="#000"/>
<rect x="223" y="96" width="1" height="3" fill="#000"/>
<rect x="223" y="102" width="1" height="3" fill="#000"/>
<rect x="223" y="108" width="1" height="3" fill="#000"/>
<rect x="223" y="114" width="1" height="3" fill="#000"/>
<rect x="223" y="120" width="1" height="3" fill="#000"/>
<rect x="223" y="126" width="1" height="3" fill="#000"/>
<rect x="223" y="132" width="1" height="3" fill="#000"/>
<rect x="223" y="138" width="1" height="3" fill="#000"/>
<rect x="223" y="144" width="1" height="3" fill="#000"/>
<rect x="223" y="150" width="1" height="3" fill="#000"/>
<rect x="223" y="156" width="1" height="3" fill="#000"/>
<rect x="223" y="162" width="1" height="3" fill="#000"/>
<rect x="223" y="168" width="1" height="3" fill="#000"/>
<rect x="223" y="174" width="1" height="3" fill="#000"/>
<rect x="223" y="180" width="1" height="3" fill="#000"/>
<rect x="223" y="186" width="1" height="3" fill="#000"/>
<rect x="223" y="192" width="1" height="3" fill="#000"/>
<rect x="223" y="198" width="1" height="3" fill="#000"/>
<rect x="223" y="204" width="1" height="3" fill="#000"/>
<rect x="223" y="210" width="1" height="3" fill="#000"/>
<rect x="223" y="216" width="1" height="3" fill="#000"/>
<rect x="223" y="222" width="1" height="3" fill="#000"/>
<rect x="223" y="228" width="1" height="3" fill="#000"/>
<rect x="223" y="234" width="1" height="3" fill="#000"/>
<rect x="223" y="240" width="1" height="3" fill="#000"/>
<rect x="223" y="246" width="1" height="3" fill="#000"/>
<rect x="223" y="252" width="1" height="3" fill="#000"/>
<rect x="223" y="258" width="1" height="3" fill="#000"/>
<rect x="223" y="264" width="1" height="3" fill="#000"/>
<rect x="223" y="270" width="1" height="3" fill="#000"/>
<rect x="223" y="276" width="1" height="3" fill="#000"/>
<rect x="223" y="282" width="1" height="3" fill="#000"/>
<rect x="223" y="288" width="1" height="3" fill="#000"/>
<rect x="223" y="294" width="1" height="3" fill="#000"/>
<rect x="223" y="300" width="1" height="3" fill="#000"/>
<rect x="223" y="306" width="1" height="3" fill="#000"/>
<rect x="223" y="312" width="1" height="3" fill="#000"/>
<rect x="223" y="318" width="1" height="3" fill="#000"/>
<rect x="223" y="350" width="1" height="3" fill="#000"/>
<rect x="223" y="359" width="1" height="9" fill="#000"/>
<rect x="223" y="374" width="1" height="3" fill="#000"/>
<rect x="2" y="320" width="3" height="1" fill="#000"/>
<rect x="8" y="320" width="3" height="1" fill="#000"/>
<rect x="14" y="320" width="3" height="1" fill="#000"/>
<rect x="20" y="320" width="3" height="1" fill="#000"/>
<rect x="26" y="320" width="3" height="1" fill="#000"/>
<rect x="32" y="320" width="3" height="1" fill="#000"/>
<rect x="38" y="320" width="3" height="1" fill="#000"/>
<rect x="44" y="320" width="3" height="1" fill="#000"/>
<rect x="50" y="320" width="3" height="1" fill="#000"/>
<rect x="56" y="320" width="3" height="1" fill="#000"/>
<rect x="62" y="320" width="3" height="1" fill="#000"/>
<rect x="68" y="320" width="3" height="1" fill="#000"/>
<rect x="74" y="320" width="3" height="1" fill="#000"/>
<rect x="80" y="320" width="3" height="1" fill="#000"/>
<rect x="86" y="320" width="3" height="1" fill="#000"/>
<rect x="92" y="320" width="3" height="1" fill="#000"/>
<rect x="98" y="320" width="3" height="1" fill="#000"/>
<rect x="104" y="320" width="3" height="1" fill="#000"/>
<rect x="110" y="320" width="3" height="1" fill="#000"/>
<rect x="116" y="320" width="3" height="1" fill="#000"/>
<rect x="122" y="320" width="3" height="1" fill="#000"/>
<rect x="128" y="320" width="3" height="1" fill="#000"/>
<rect x="134" y="320" width="3" height="1" fill="#000"/>
<rect x="140" y="320" width="3" height="1" fill="#000"/>
<rect x="146" y="320" width="3" height="1" fill="#000"/>
<rect x="152" y="320" width="3" height="1" fill="#000"/>
<rect x="158" y="320" width="3" height="1" fill="#000"/>
<rect x="164" y="320" width="3" height="1" fill="#000"/>
<rect x="170" y="320" width="3" height="1" fill="#000"/>
<rect x="176" y="320" width="3" height="1" fill="#000"/>
<rect x="182" y="320" width="3" height="1" fill="#000"/>
<rect x="188" y="320" width="3" height="1" fill="#000"/>
<rect x="194" y="320" width="3" height="1" fill="#000"/>
<rect x="200" y="320" width="3" height="1" fill="#000"/>
<rect x="206" y="320" width="3" height="1" fill="#000"/>
<rect x="212" y="320" width="3" height="1" fill="#000"/>
<rect x="218" y="320" width="3" height="1" fill="#000"/>
<rect x="224" y="320" width="3" height="1" fill="#000"/>
<rect x="230" y="320" width="3" height="1" fill="#000"/>
<rect x="236" y="320" width="3" height="1" fill="#000"/>
<rect x="242" y="320" width="3" height="1" fill="#000"/>
<rect x="248" y="320" width="3" height="1" fill="#000"/>
<rect x="254" y="320" width="3" height="1" fill="#000"/>
<rect x="260" y="320" width="3" height="1" fill="#000"/>
<rect x="266" y="320" width="3" height="1" fill="#000"/>
<rect x="272" y="320" width="3" height="1" fill="#000"/>
<rect x="278" y="320" width="3" height="1" fill="#000"/>
<rect x="284" y="320" width="3" height="1" fill="#000"/>
<rect x="290" y="320" width="3" height="1" fill="#000"/>
<rect x="296" y="320" width="3" height="1" fill="#000"/>
<rect x="302" y="320" width="3" height="1" fill="#000"/>
<rect x="308" y="320" width="3" height="1" fill="#000"/>
<rect x="314" y="320" width="3" height="1" fill="#000"/>
<rect x="320" y="320" width="3" height="1" fill="#000"/>
<rect x="326" y="320" width="3" height="1" fill="#000"/>
<rect x="332" y="320" width="3" height="1" fill="#000"/>
<rect x="338" y="320" width="3" height="1" fill="#000"/>
<rect x="344" y="320" width="3" height="1" fill="#000"/>
<rect x="350" y="320" width="3" height="1" fill="#000"/>
<rect x="356" y="320" width="3" height="1" fill="#000"/>
<rect x="362" y="320" width="3" height="1" fill="#000"/>
<rect x="368" y="320" width="3" height="1" fill="#000"/>
<rect x="374" y="320" width="3" height="1" fill="#000"/>
<rect x="380" y="320" width="3" height="1" fill="#000"/>
<rect x="386" y="320" width="3" height="1" fill="#000"/>
<rect x="392" y="320" width="3" height="1" fill="#000"/>
<rect x="398" y="320" width="3" height="1" fill="#000"/>
<rect x="404" y="320" width="3" height="1" fill="#000"/>
<rect x="410" y="320" width="3" height="1" fill="#000"/>
<rect x="416" y="320" width="3" height="1" fill="#000"/>
<rect x="422" y="320" width="3" height="1" fill="#000"/>
<rect x="428" y="320" width="3" height="1" fill="#000"/>
<rect x="434" y="320" width="3" height="1" fill="#000"/>
<rect x="440" y="320" width="3" height="1" fill="#000"/>
<rect x="446" y="320" width="3" height="1" fill="#000"/>
<rect x="452" y="320" width="3" height="1" fill="#000"/>
<rect x="458" y="320" width="3" height="1" fill="#000"/>
<rect x="464" y="320" width="3" height="1" fill="#000"/>
<rect x="470" y="320" width="3" height="1" fill="#000"/>
<rect x="186" y="237" width="1" height="169" fill="#000"/>
<rect x="101" y="322" width="169" height="1" fill="#000"/>
<rect x="376" y="241" width="1" height="151" fill="#000"/>
<rect x="54" y="391" width="166" height="1" fill="#000"/>
<rect x="249" y="391" width="128" height="1" fill="#000"/>
<rect x="22" y="391" width="1" height="1" fill="#000028"/>
<rect x="23" y="390" width="1" height="1" fill="#000028"/>
<rect x="24" y="389" width="1" height="1" fill="#000028"/>
<rect x="25" y="388" width="1" height="1" fill="#000028"/>
<rect x="26" y="387" width="1" height="1" fill="#000028"/>
<rect x="27" y="386" width="1" height="1" fill="#000028"/>
<rect x="28" y="385" width="1" height="1" fill="#000028"/>
<rect x="29" y="384" width="1" height="1" fill="#000028"/>
<rect x="30" y="383" width="1" height="1" fill="#000028"/>
<rect x="31" y="382" width="1" height="1" fill="#000028"/>
<rect x="32" y="381" width="1" height="1" fill="#000028"/>
<rect x="33" y="380" width="1" height="1" fill="#000028"/>
<rect x="34" y="379" width="1" height="1" fill="#000028"/>
<rect x="34" y="379" width="1" height="7" fill="#000028"/>
<rect x="34" y="385" width="18" height="1" fill="#000028"/>
<rect x="51" y="385" width="1" height="12" fill="#000028"/>
<rect x="34" y="396" width="18" height="1" fill="#000028"/>
<rect x="34" y="396" width="1" height="7" fill="#000028"/>
<rect x="22" y="391" width="1" height="1" fill="#000028"/>
<rect x="23" y="392" width="1" height="1" fill="#000028"/>
<rect x="24" y="393" width="1" height="1" fill="#000028"/>
<rect x="25" y="394" width="1" height="1" fill="#000028"/>
<rect x="26" y="395" width="1" height="1" fill="#000028"/>
<rect x="27" y="396" width="1" height="1" fill="#000028"/>
<rect x="28" y="397" width="1" height="1" fill="#000028"/>
<rect x="29" y="397" width="1" height="1" fill="#000028"/>
<rect x="30" y="398" width="1" height="1" fill="#000028"/>
<rect x="31" y="399" width="1" height="1" fill="#000028"/>
<rect x="32" y="400" width="1" height="1" fill="#000028"/>
<rect x="33" y="401" width="1" height="1" fill="#000028"/>
<rect x="34" y="402" width="1" height="1" fill="#000028"/>
<rect x="10" y="378" width="4" height="1" fill="#000028"/>
<rect x="16" y="378" width="6" height="1" fill="#000028"/>
<rect x="9" y="379" width="1" height="1" fill="#000028"/>
<rect x="14" y="379" width="1" height="1" fill="#000028"/>
<rect x="20" y="379" width="1" height="1" fill="#000028"/>
<rect x="10" y="380" width="5" height="1" fill="#000028"/>
<rect x="19" y="380" width="1" height="1" fill="#000028"/>
<rect x="9" y="381" width="1" height="1" fill="#000028"/>
<rect x="14" y="381" width="1" height="1" fill="#000028"/>
<rect x="18" y="381" width="1" height="1" fill="#000028"/>
<rect x="9" y="382" width="1" height="1" fill="#000028"/>
<rect x="13" y="382" width="2" height="1" fill="#000028"/>
<rect x="17" y="382" width="1" height="1" fill="#000028"/>
<rect x="10" y="383" width="3" height="1" fill="#000028"/>
<rect x="16" y="383" width="5" height="1" fill="#000028"/>
<rect x="120" y="372" width="1" height="1" fill="#000028"/>
<rect x="124" y="372" width="2" height="1" fill="#000028"/>
<rect x="129" y="372" width="2" height="1" fill="#000028"/>
<rect x="119" y="373" width="2" height="1" fill="#000028"/>
<rect x="123" y="373" width="1" height="1" fill="#000028"/>
<rect x="126" y="373" width="1" height="1" fill="#000028"/>
<rect x="128" y="373" width="1" height="1" fill="#000028"/>
<rect x="131" y="373" width="1" height="1" fill="#000028"/>
<rect x="118" y="374" width="1" height="1" fill="#000028"/>
<rect x="120" y="374" width="1" height="1" fill="#000028"/>
<rect x="126" y="374" width="1" height="1" fill="#000028"/>
<rect x="131" y="374" width="1" height="1" fill="#000028"/>
<rect x="120" y="375" width="1" height="1" fill="#000028"/>
<rect x="125" y="375" width="1" height="1" fill="#000028"/>
<rect x="130" y="375" width="1" height="1" fill="#000028"/>
<rect x="120" y="376" width="1" height="1" fill="#000028"/>
<rect x="124" y="376" width="1" height="1" fill="#000028"/>
<rect x="131" y="376" width="1" height="1" fill="#000028"/>
<rect x="120" y="377" width="1" height="1" fill="#000028"/>
<rect x="124" y="377" width="1" height="1" fill="#000028"/>
<rect x="131" y="377" width="1" height="1" fill="#000028"/>
<rect x="123" y="378" width="3" height="1" fill="#000028"/>
<rect x="129" y="378" width="2" height="1" fill="#000028"/>
<rect x="390" y="325" width="1" height="1" fill="#000028"/>
<rect x="394" y="325" width="3" height="1" fill="#000028"/>
<rect x="399" y="325" width="3" height="1" fill="#000028"/>
<rect x="389" y="326" width="2" height="1" fill="#000028"/>
<rect x="393" y="326" width="1" height="1" fill="#000028"/>
<rect x="397" y="326" width="1" height="1" fill="#000028"/>
<rect x="401" y="326" width="1" height="1" fill="#000028"/>
<rect x="389" y="327" width="2" height="1" fill="#000028"/>
<rect x="397" y="327" width="1" height="1" fill="#000028"/>
<rect x="401" y="327" width="1" height="1" fill="#000028"/>
<rect x="390" y="328" width="1" height="1" fill="#000028"/>
<rect x="397" y="328" width="1" height="1" fill="#000028"/>
<rect x="401" y="328" width="1" height="1" fill="#000028"/>
<rect x="390" y="329" width="1" height="1" fill="#000028"/>
<rect x="395" y="329" width="2" height="1" fill="#000028"/>
<rect x="401" y="329" width="1" height="1" fill="#000028"/>
<rect x="390" y="330" width="1" height="1" fill="#000028"/>
<rect x="394" y="330" width="1" height="1" fill="#000028"/>
<rect x="401" y="330" width="1" height="1" fill="#000028"/>
<rect x="393" y="331" width="4" height="1" fill="#000028"/>
<rect x="399" y="331" width="3" height="1" fill="#000028"/>
<rect x="51" y="391" width="3" height="1" fill="#ff0000"/>
<rect x="56" y="382" width="1" height="1" fill="#00ff00"/>
<rect x="55" y="383" width="2" height="1" fill="#00ff00"/>
<rect x="56" y="384" width="1" height="1" fill="#00ff00"/>
<rect x="223" y="385" width="1" height="12" fill="#ff00ff"/>
<rect x="246" y="385" width="1" height="12" fill="#ff00ff"/>
<rect x="224" y="385" width="1" height="1" fill="#ff00ff"/>
<rect x="225" y="386" width="1" height="1" fill="#ff00ff"/>
<rect x="226" y="386" width="1" height="1" fill="#ff00ff"/>
<rect x="227" y="387" width="1" height="1" fill="#ff00ff"/>
<rect x="228" y="387" width="1" height="1" fill="#ff00ff"/>
<rect x="229" y="388" width="1" height="1" fill="#ff00ff"/>
<rect x="230" y="388" width="1" height="1" fill="#ff00ff"/>
<rect x="231" y="389" width="1" height="1" fill="#ff00ff"/>
<rect x="232" y="389" width="1" height="1" fill="#ff00ff"/>
<rect x="233" y="390" width="1" height="1" fill="#ff00ff"/>
<rect x="234" y="390" width="1" height="1" fill="#ff00ff"/>
<rect x="235" y="391" width="1" height="1" fill="#ff00ff"/>
<rect x="236" y="391" width="1" height="1" fill="#ff00ff"/>
<rect x="237" y="392" width="1" height="1" fill="#ff00ff"/>
<rect x="238" y="392" width="1" height="1" fill="#ff00ff"/>
<rect x="239" y="393" width="1" height="1" fill="#ff00ff"/>
<rect x="240" y="393" width="1" height="1" fill="#ff00ff"/>
<rect x="241" y="394" width="1" height="1" fill="#ff00ff"/>
<rect x="242" y="394" width="1" height="1" fill="#ff00ff"/>
<rect x="243" y="395" width="1" height="1" fill="#ff00ff"/>
<rect x="244" y="395" width="1" height="1" fill="#ff00ff"/>
<rect x="245" y="396" width="1" height="1" fill="#ff00ff"/>
<rect x="224" y="396" width="1" height="1" fill="#ff00ff"/>
<rect x="225" y="395" width="1" height="1" fill="#ff00ff"/>
<rect x="226" y="395" width="1" height="1" fill="#ff00ff"/>
<rect x="227" y="394" width="1" height="1" fill="#ff00ff"/>
<rect x="228" y="394" width="1" height="1" fill="#ff00ff"/>
<rect x="229" y="393" width="1" height="1" fill="#ff00ff"/>
<rect x="230" y="393" width="1" height="1" fill="#ff00ff"/>
<rect x="231" y="392" width="1" height="1" fill="#ff00ff"/>
<rect x="232" y="392" width="1" height="1" fill="#ff00ff"/>
<rect x="233" y="391" width="1" height="1" fill="#ff00ff"/>
<rect x="234" y="391" width="1" height="1" fill="#ff00ff"/>
<rect x="235" y="390" width="1" height="1" fill="#ff00ff"/>
<rect x="236" y="390" width="1" height="1" fill="#ff00ff"/>
<rect x="237" y="389" width="1" height="1" fill="#ff00ff"/>
<rect x="238" y="389" width="1" height="1" fill="#ff00ff"/>
<rect x="239" y="388" width="1" height="1" fill="#ff00ff"/>
<rect x="240" y="388" width="1" height="1" fill="#ff00ff"/>
<rect x="241" y="387" width="1" height="1" fill="#ff00ff"/>
<rect x="242" y="387" width="1" height="1" fill="#ff00ff"/>
<rect x="243" y="386" width="1" height="1" fill="#ff00ff"/>
<rect x="244" y="386" width="1" height="1" fill="#ff00ff"/>
<rect x="245" y="385" width="1" height="1" fill="#ff00ff"/>
<rect x="228" y="395" width="1" height="1" fill="#ff00ff"/>
<rect x="229" y="396" width="1" height="1" fill="#ff00ff"/>
<rect x="230" y="397" width="1" height="1" fill="#ff00ff"/>
<rect x="231" y="398" width="1" height="1" fill="#ff00ff"/>
<rect x="232" y="399" width="1" height="1" fill="#ff00ff"/>
<rect x="233" y="400" width="1" height="1" fill="#ff00ff"/>
<rect x="234" y="401" width="1" height="1" fill="#ff00ff"/>
<rect x="235" y="402" width="1" height="1" fill="#ff00ff"/>
<rect x="235" y="402" width="1" height="1" fill="#ff00ff"/>
<rect x="236" y="401" width="1" height="1" fill="#ff00ff"/>
<rect x="237" y="400" width="1" height="1" fill="#ff00ff"/>
<rect x="238" y="399" width="1" height="1" fill="#ff00ff"/>
<rect x="239" y="398" width="1" height="1" fill="#ff00ff"/>
<rect x="240" y="397" width="1" height="1" fill="#ff00ff"/>
<rect x="241" y="396" width="1" height="1" fill="#ff00ff"/>
<rect x="242" y="395" width="1" height="1" fill="#ff00ff"/>
<rect x="220" y="391" width="3" height="1" fill="#ff00ff"/>
<rect x="247" y="391" width="2" height="1" fill="#ff00ff"/>
<rect x="223" y="383" width="1" height="9" fill="#000"/>
<rect x="219" y="393" width="2" height="1" fill="#ff00ff"/>
<rect x="220" y="394" width="1" height="1" fill="#ff00ff"/>
<rect x="248" y="393" width="2" height="1" fill="#ff00ff"/>
<rect x="248" y="394" width="1" height="1" fill="#ff00ff"/>
<rect x="248" y="395" width="1" height="1" fill="#ff00ff"/>
<rect x="236" y="385" width="2" height="1" fill="#ff00ff"/>
<rect x="237" y="386" width="1" height="1" fill="#ff00ff"/>
<rect x="237" y="387" width="1" height="1" fill="#ff00ff"/>
<rect x="235" y="388" width="1" height="3" fill="#ff00ff"/>
<rect x="235" y="403" width="1" height="1" fill="#ff00ff"/>
<rect x="237" y="403" width="1" height="1" fill="#ff00ff"/>
<rect x="235" y="404" width="1" height="1" fill="#ff00ff"/>
<rect x="237" y="404" width="1" height="1" fill="#ff00ff"/>
<rect x="236" y="405" width="1" height="1" fill="#ff00ff"/>
<rect x="210" y="400" width="1" height="1" fill="#ff00ff"/>
<rect x="218" y="400" width="1" height="1" fill="#ff00ff"/>
<rect x="210" y="401" width="1" height="1" fill="#ff00ff"/>
<rect x="214" y="401" width="1" height="1" fill="#ff00ff"/>
<rect x="217" y="401" width="2" height="1" fill="#ff00ff"/>
<rect x="210" y="402" width="1" height="1" fill="#ff00ff"/>
<rect x="214" y="402" width="1" height="1" fill="#ff00ff"/>
<rect x="216" y="402" width="1" height="1" fill="#ff00ff"/>
<rect x="218" y="402" width="1" height="1" fill="#ff00ff"/>
<rect x="211" y="403" width="1" height="1" fill="#ff00ff"/>
<rect x="213" y="403" width="1" height="1" fill="#ff00ff"/>
<rect x="218" y="403" width="1" height="1" fill="#ff00ff"/>
<rect x="211" y="404" width="1" height="1" fill="#ff00ff"/>
<rect x="213" y="404" width="1" height="1" fill="#ff00ff"/>
<rect x="218" y="404" width="1" height="1" fill="#ff00ff"/>
<rect x="211" y="405" width="1" height="1" fill="#ff00ff"/>
<rect x="213" y="405" width="1" height="1" fill="#ff00ff"/>
<rect x="218" y="405" width="1" height="1" fill="#ff00ff"/>
<rect x="211" y="406" width="1" height="1" fill="#ff00ff"/>
<rect x="213" y="406" width="1" height="1" fill="#ff00ff"/>
<rect x="218" y="406" width="1" height="1" fill="#ff00ff"/>
<rect x="212" y="407" width="1" height="1" fill="#ff00ff"/>
<rect x="218" y="407" width="1" height="1" fill="#ff00ff"/>
<rect x="212" y="408" width="1" height="1" fill="#ff00ff"/>
<rect x="218" y="408" width="1" height="1" fill="#ff00ff"/>
<rect x="212" y="409" width="1" height="1" fill="#ff00ff"/>
<rect x="221" y="315" width="2" height="13" fill="#000"/>
<rect x="233" y="318" width="2" height="1" fill="#000"/>
<rect x="245" y="315" width="2" height="13" fill="#000"/>
<rect x="222" y="315" width="2" height="2" fill="#000"/>
<rect x="222" y="326" width="2" height="2" fill="#000"/>
<rect x="223" y="315" width="2" height="2" fill="#000"/>
<rect x="223" y="326" width="2" height="2" fill="#000"/>
<rect x="224" y="316" width="2" height="2" fill="#000"/>
<rect x="224" y="325" width="2" height="2" fill="#000"/>
<rect x="225" y="316" width="2" height="2" fill="#000"/>
<rect x="225" y="325" width="2" height="2" fill="#000"/>
<rect x="226" y="317" width="2" height="2" fill="#000"/>
<rect x="226" y="324" width="2" height="2" fill="#000"/>
<rect x="227" y="317" width="2" height="2" fill="#000"/>
<rect x="227" y="324" width="2" height="2" fill="#000"/>
<rect x="228" y="318" width="2" height="2" fill="#000"/>
<rect x="228" y="323" width="2" height="2" fill="#000"/>
<rect x="229" y="318" width="2" height="2" fill="#000"/>
<rect x="229" y="323" width="2" height="2" fill="#000"/>
<rect x="230" y="319" width="2" height="2" fill="#000"/>
<rect x="230" y="322" width="2" height="2" fill="#000"/>
<rect x="231" y="319" width="2" height="2" fill="#000"/>
<rect x="231" y="322" width="2" height="2" fill="#000"/>
<rect x="232" y="320" width="2" height="2" fill="#000"/>
<rect x="232" y="321" width="2" height="2" fill="#000"/>
<rect x="233" y="320" width="2" height="2" fill="#000"/>
<rect x="233" y="321" width="2" height="2" fill="#000"/>
<rect x="234" y="321" width="2" height="2" fill="#000"/>
<rect x="234" y="320" width="2" height="2" fill="#000"/>
<rect x="235" y="321" width="2" height="2" fill="#000"/>
<rect x="235" y="320" width="2" height="2" fill="#000"/>
<rect x="236" y="322" width="2" height="2" fill="#000"/>
<rect x="236" y="319" width="2" height="2" fill="#000"/>
<rect x="237" y="322" width="2" height="2" fill="#000"/>
<rect x="237" y="319" width="2" height="2" fill="#000"/>
<rect x="238" y="323" width="2" height="2" fill="#000"/>
<rect x="238" y="318" width="2" height="2" fill="#000"/>
<rect x="239" y="323" width="2" height="2" fill="#000"/>
<rect x="239" y="318" width="2" height="2" fill="#000"/>
<rect x="240" y="324" width="2" height="2" fill="#000"/>
<rect x="240" y="317" width="2" height="2" fill="#000"/>
<rect x="241" y="324" width="2" height="2" fill="#000"/>
<rect x="241" y="317" width="2" height="2" fill="#000"/>
<rect x="242" y="325" width="2" height="2" fill="#000"/>
<rect x="242" y="316" width="2" height="2" fill="#000"/>
<rect x="243" y="325" width="2" height="2" fill="#000"/>
<rect x="243" y="316" width="2" height="2" fill="#000"/>
<rect x="244" y="326" width="2" height="2" fill="#000"/>
<rect x="244" y="315" width="2" height="2" fill="#000"/>
<rect x="245" y="326" width="2" height="2" fill="#000"/>
<rect x="245" y="315" width="2" height="2" fill="#000"/>
<rect x="226" y="325" width="1" height="1" fill="#000"/>
<rect x="227" y="326" width="1" height="1" fill="#000"/>
<rect x="228" y="327" width="1" height="1" fill="#000"/>
<rect x="229" y="328" width="1" height="1" fill="#000"/>
<rect x="230" y="329" width="1" height="1" fill="#000"/>
<rect x="231" y="330" width="1" height="1" fill="#000"/>
<rect x="232" y="331" width="1" height="1" fill="#000"/>
<rect x="233" y="332" width="1" height="1" fill="#000"/>
<rect x="227" y="325" width="1" height="1" fill="#000"/>
<rect x="228" y="326" width="1" height="1" fill="#000"/>
<rect x="229" y="327" width="1" height="1" fill="#000"/>
<rect x="230" y="328" width="1" height="1" fill="#000"/>
<rect x="231" y="329" width="1" height="1" fill="#000"/>
<rect x="232" y="330" width="1" height="1" fill="#000"/>
<rect x="233" y="331" width="1" height="1" fill="#000"/>
<rect x="234" y="332" width="1" height="1" fill="#000"/>
<rect x="226" y="326" width="1" height="1" fill="#000"/>
<rect x="227" y="327" width="1" height="1" fill="#000"/>
<rect x="228" y="328" width="1" height="1" fill="#000"/>
<rect x="229" y="329" width="1" height="1" fill="#000"/>
<rect x="230" y="330" width="1" height="1" fill="#000"/>
<rect x="231" y="331" width="1" height="1" fill="#000"/>
<rect x="232" y="332" width="1" height="1" fill="#000"/>
<rect x="233" y="333" width="1" height="1" fill="#000"/>
<rect x="227" y="326" width="1" height="1" fill="#000"/>
<rect x="228" y="327" width="1" height="1" fill="#000"/>
<rect x="229" y="328" width="1" height="1" fill="#000"/>
<rect x="230" y="329" width="1" height="1" fill="#000"/>
<rect x="231" y="330" width="1" height="1" fill="#000"/>
<rect x="232" y="331" width="1" height="1" fill="#000"/>
<rect x="233" y="332" width="1" height="1" fill="#000"/>
<rect x="234" y="333" width="1" height="1" fill="#000"/>
<rect x="233" y="332" width="1" height="1" fill="#000"/>
<rect x="234" y="331" width="1" height="1" fill="#000"/>
<rect x="235" y="330" width="1" height="1" fill="#000"/>
<rect x="236" y="329" width="1" height="1" fill="#000"/>
<rect x="237" y="328" width="1" height="1" fill="#000"/>
<rect x="238" y="327" width="1" height="1" fill="#000"/>
<rect x="239" y="326" width="1" height="1" fill="#000"/>
<rect x="240" y="325" width="1" height="1" fill="#000"/>
<rect x="234" y="332" width="1" height="1" fill="#000"/>
<rect x="235" y="331" width="1" height="1" fill="#000"/>
<rect x="236" y="330" width="1" height="1" fill="#000"/>
<rect x="237" y="329" width="1" height="1" fill="#000"/>
<rect x="238" y="328" width="1" height="1" fill="#000"/>
<rect x="239" y="327" width="1" height="1" fill="#000"/>
<rect x="240" y="326" width="1" height="1" fill="#000"/>
<rect x="241" y="325" width="1" height="1" fill="#000"/>
<rect x="233" y="333" width="1" height="1" fill="#000"/>
<rect x="234" y="332" width="1" height="1" fill="#000"/>
<rect x="235" y="331" width="1" height="1" fill="#000"/>
<rect x="236" y="330" width="1" height="1" fill="#000"/>
<rect x="237" y="329" width="1" height="1" fill="#000"/>
<rect x="238" y="328" width="1" height="1" fill="#000"/>
<rect x="239" y="327" width="1" height="1" fill="#000"/>
<rect x="240" y="326" width="1" height="1" fill="#000"/>
<rect x="234" y="333" width="1" height="1" fill="#000"/>
<rect x="235" y="332" width="1" height="1" fill="#000"/>
<rect x="236" y="331" width="1" height="1" fill="#000"/>
<rect x="237" y="330" width="1" height="1" fill="#000"/>
<rect x="238" y="329" width="1" height="1" fill="#000"/>
<rect x="239" y="328" width="1" height="1" fill="#000"/>
<rect x="240" y="327" width="1" height="1" fill="#000"/>
<rect x="241" y="326" width="1" height="1" fill="#000"/>
<rect x="233" y="332" width="2" height="5" fill="#000"/>
<rect x="218" y="320" width="3" height="1" fill="#000"/>
<rect x="219" y="321" width="2" height="1" fill="#000"/>
<rect x="223" y="328" width="1" height="1" fill="#000"/>
<rect x="247" y="320" width="4" height="1" fill="#000"/>
<rect x="247" y="321" width="3" height="1" fill="#000"/>
<rect x="212" y="300" width="1" height="1" fill="#ff0000"/>
<rect x="213" y="301" width="2" height="1" fill="#ff0000"/>
<rect x="215" y="302" width="2" height="1" fill="#ff0000"/>
<rect x="217" y="303" width="1" height="1" fill="#ff0000"/>
<rect x="215" y="304" width="2" height="1" fill="#ff0000"/>
<rect x="214" y="305" width="1" height="1" fill="#ff0000"/>
<rect x="212" y="306" width="2" height="1" fill="#ff0000"/>
<rect x="211" y="307" width="1" height="1" fill="#ff0000"/>
<rect x="233" y="296" width="4" height="1" fill="#ff0000"/>
<rect x="232" y="297" width="1" height="1" fill="#ff0000"/>
<rect x="237" y="297" width="1" height="1" fill="#ff0000"/>
<rect x="231" y="298" width="1" height="1" fill="#ff0000"/>
<rect x="238" y="298" width="1" height="1" fill="#ff0000"/>
<rect x="231" y="299" width="1" height="1" fill="#ff0000"/>
<rect x="238" y="299" width="1" height="1" fill="#ff0000"/>
<rect x="231" y="300" width="1" height="1" fill="#ff0000"/>
<rect x="238" y="300" width="1" height="1" fill="#ff0000"/>
<rect x="231" y="301" width="1" height="1" fill="#ff0000"/>
<rect x="238" y="301" width="1" height="1" fill="#ff0000"/>
<rect x="231" y="302" width="1" height="1" fill="#ff0000"/>
<rect x="238" y="302" width="1" height="1" fill="#ff0000"/>
<rect x="231" y="303" width="2" height="1" fill="#ff0000"/>
<rect x="238" y="303" width="1" height="1" fill="#ff0000"/>
<rect x="233" y="304" width="5" height="1" fill="#ff0000"/>
<rect x="238" y="305" width="1" height="1" fill="#ff0000"/>
<rect x="238" y="306" width="1" height="1" fill="#ff0000"/>
<rect x="238" y="307" width="1" height="1" fill="#ff0000"/>
<rect x="232" y="308" width="1" height="1" fill="#ff0000"/>
<rect x="237" y="308" width="1" height="1" fill="#ff0000"/>
<rect x="233" y="309" width="4" height="1" fill="#ff0000"/>
<rect x="244" y="296" width="3" height="1" fill="#ff0000"/>
<rect x="243" y="297" width="1" height="1" fill="#ff0000"/>
<rect x="247" y="297" width="1" height="1" fill="#ff0000"/>
<rect x="242" y="298" width="1" height="1" fill="#ff0000"/>
<rect x="247" y="298" width="1" height="1" fill="#ff0000"/>
<rect x="242" y="299" width="1" height="1" fill="#ff0000"/>
<rect x="248" y="299" width="1" height="1" fill="#ff0000"/>
<rect x="242" y="300" width="1" height="1" fill="#ff0000"/>
<rect x="248" y="300" width="1" height="1" fill="#ff0000"/>
<rect x="242" y="301" width="1" height="1" fill="#ff0000"/>
<rect x="248" y="301" width="1" height="1" fill="#ff0000"/>
<rect x="242" y="302" width="1" height="1" fill="#ff0000"/>
<rect x="248" y="302" width="1" height="1" fill="#ff0000"/>
<rect x="242" y="303" width="1" height="1" fill="#ff0000"/>
<rect x="248" y="303" width="1" height="1" fill="#ff0000"/>
<rect x="242" y="304" width="1" height="1" fill="#ff0000"/>
<rect x="248" y="304" width="1" height="1" fill="#ff0000"/>
<rect x="242" y="305" width="1" height="1" fill="#ff0000"/>
<rect x="248" y="305" width="1" height="1" fill="#ff0000"/>
<rect x="242" y="306" width="1" height="1" fill="#ff0000"/>
<rect x="248" y="306" width="1" height="1" fill="#ff0000"/>
<rect x="242" y="307" width="1" height="1" fill="#ff0000"/>
<rect x="247" y="307" width="1" height="1" fill="#ff0000"/>
<rect x="243" y="308" width="1" height="1" fill="#ff0000"/>
<rect x="247" y="308" width="1" height="1" fill="#ff0000"/>
<rect x="244" y="309" width="3" height="1" fill="#ff0000"/>
<rect x="255" y="294" width="3" height="1" fill="#ff0000"/>
<rect x="254" y="295" width="1" height="1" fill="#ff0000"/>
<rect x="258" y="295" width="1" height="1" fill="#ff0000"/>
<rect x="254" y="296" width="1" height="1" fill="#ff0000"/>
<rect x="258" y="296" width="1" height="1" fill="#ff0000"/>
<rect x="254" y="297" width="1" height="1" fill="#ff0000"/>
<rect x="257" y="297" width="1" height="1" fill="#ff0000"/>
<rect x="255" y="298" width="2" height="1" fill="#ff0000"/>
<rect x="213" y="334" width="5" height="1" fill="#000028"/>
<rect x="212" y="335" width="1" height="1" fill="#000028"/>
<rect x="218" y="335" width="1" height="1" fill="#000028"/>
<rect x="211" y="336" width="1" height="1" fill="#000028"/>
<rect x="219" y="336" width="1" height="1" fill="#000028"/>
<rect x="219" y="337" width="1" height="1" fill="#000028"/>
<rect x="219" y="338" width="1" height="1" fill="#000028"/>
<rect x="219" y="339" width="1" height="1" fill="#000028"/>
<rect x="219" y="340" width="1" height="1" fill="#000028"/>
<rect x="218" y="341" width="1" height="1" fill="#000028"/>
<rect x="216" y="342" width="3" height="1" fill="#000028"/>
<rect x="219" y="343" width="1" height="1" fill="#000028"/>
<rect x="219" y="344" width="1" height="1" fill="#000028"/>
<rect x="219" y="345" width="1" height="1" fill="#000028"/>
<rect x="219" y="346" width="1" height="1" fill="#000028"/>
<rect x="219" y="347" width="1" height="1" fill="#000028"/>
<rect x="212" y="348" width="1" height="1" fill="#000028"/>
<rect x="218" y="348" width="1" height="1" fill="#000028"/>
<rect x="213" y="349" width="5" height="1" fill="#000028"/>
<rect x="226" y="334" width="3" height="1" fill="#000028"/>
<rect x="223" y="335" width="1" height="1" fill="#000028"/>
<rect x="225" y="335" width="1" height="1" fill="#000028"/>
<rect x="229" y="335" width="1" height="1" fill="#000028"/>
<rect x="223" y="336" width="2" height="1" fill="#000028"/>
<rect x="230" y="336" width="1" height="1" fill="#000028"/>
<rect x="223" y="337" width="1" height="1" fill="#000028"/>
<rect x="230" y="337" width="1" height="1" fill="#000028"/>
<rect x="223" y="338" width="1" height="1" fill="#000028"/>
<rect x="231" y="338" width="1" height="1" fill="#000028"/>
<rect x="223" y="339" width="1" height="1" fill="#000028"/>
<rect x="231" y="339" width="1" height="1" fill="#000028"/>
<rect x="223" y="340" width="1" height="1" fill="#000028"/>
<rect x="231" y="340" width="1" height="1" fill="#000028"/>
<rect x="223" y="341" width="1" height="1" fill="#000028"/>
<rect x="231" y="341" width="1" height="1" fill="#000028"/>
<rect x="223" y="342" width="1" height="1" fill="#000028"/>
<rect x="231" y="342" width="1" height="1" fill="#000028"/>
<rect x="223" y="343" width="1" height="1" fill="#000028"/>
<rect x="231" y="343" width="1" height="1" fill="#000028"/>
<rect x="223" y="344" width="1" height="1" fill="#000028"/>
<rect x="231" y="344" width="1" height="1" fill="#000028"/>
<rect x="223" y="345" width="1" height="1" fill="#000028"/>
<rect x="231" y="345" width="1" height="1" fill="#000028"/>
<rect x="224" y="346" width="1" height="1" fill="#000028"/>
<rect x="230" y="346" width="1" height="1" fill="#000028"/>
<rect x="224" y="347" width="1" height="1" fill="#000028"/>
<rect x="230" y="347" width="1" height="1" fill="#000028"/>
<rect x="225" y="348" width="1" height="1" fill="#000028"/>
<rect x="229" y="348" width="1" height="1" fill="#000028"/>
<rect x="226" y="349" width="3" height="1" fill="#000028"/>
<rect x="236" y="348" width="2" height="2" fill="#000028"/>
<rect x="873" y="6" width="3" height="1" fill="#009600"/>
<rect x="879" y="6" width="3" height="1" fill="#009600"/>
<rect x="885" y="6" width="3" height="1" fill="#009600"/>
<rect x="891" y="6" width="3" height="1" fill="#009600"/>
<rect x="897" y="6" width="3" height="1" fill="#009600"/>
<rect x="903" y="6" width="3" height="1" fill="#009600"/>
<rect x="909" y="6" width="3" height="1" fill="#009600"/>
<rect x="915" y="6" width="3" height="1" fill="#009600"/>
<rect x="921" y="6" width="3" height="1" fill="#009600"/>
<rect x="927" y="6" width="3" height="1" fill="#009600"/>
<rect x="933" y="6" width="3" height="1" fill="#009600"/>
<rect x="873" y="10" width="1" height="3" fill="#009600"/>
<rect x="873" y="16" width="1" height="3" fill="#009600"/>
<rect x="873" y="22" width="1" height="3" fill="#009600"/>
<rect x="873" y="28" width="1" height="3" fill="#009600"/>
<rect x="873" y="34" width="1" height="3" fill="#009600"/>
<rect x="873" y="40" width="1" height="3" fill="#009600"/>
<rect x="873" y="46" width="1" height="3" fill="#009600"/>
<rect x="873" y="52" width="1" height="3" fill="#009600"/>
<rect x="938" y="6" width="1" height="3" fill="#009600"/>
<rect x="938" y="12" width="1" height="3" fill="#009600"/>
<rect x="938" y="18" width="1" height="3" fill="#009600"/>
<rect x="938" y="24" width="1" height="3" fill="#009600"/>
<rect x="938" y="30" width="1" height="3" fill="#009600"/>
<rect x="938" y="36" width="1" height="3" fill="#009600"/>
<rect x="938" y="42" width="1" height="3" fill="#009600"/>
<rect x="938" y="48" width="1" height="3" fill="#009600"/>
<rect x="938" y="54" width="1" height="3" fill="#009600"/>
<rect x="938" y="60" width="1" height="3" fill="#009600"/>
<rect x="938" y="66" width="1" height="3" fill="#009600"/>
<rect x="938" y="72" width="1" height="3" fill="#009600"/>
<rect x="938" y="78" width="1" height="3" fill="#009600"/>
<rect x="938" y="84" width="1" height="3" fill="#009600"/>
<rect x="938" y="90" width="1" height="3" fill="#009600"/>
<rect x="938" y="96" width="1" height="3" fill="#009600"/>
<rect x="862" y="69" width="1" height="1" fill="#000028"/>
<rect x="862" y="70" width="1" height="1" fill="#000028"/>
<rect x="862" y="71" width="1" height="1" fill="#000028"/>
<rect x="862" y="72" width="1" height="1" fill="#000028"/>
<rect x="862" y="73" width="1" height="1" fill="#000028"/>
<rect x="863" y="66" width="1" height="1" fill="#000028"/>
<rect x="863" y="67" width="1" height="1" fill="#000028"/>
<rect x="863" y="68" width="1" height="1" fill="#000028"/>
<rect x="863" y="74" width="1" height="1" fill="#000028"/>
<rect x="863" y="75" width="1" height="1" fill="#000028"/>
<rect x="863" y="76" width="1" height="1" fill="#000028"/>
<rect x="864" y="65" width="1" height="1" fill="#000028"/>
<rect x="864" y="77" width="1" height="1" fill="#000028"/>
<rect x="865" y="63" width="1" height="1" fill="#000028"/>
<rect x="865" y="64" width="1" height="1" fill="#000028"/>
<rect x="865" y="78" width="1" height="1" fill="#000028"/>
<rect x="865" y="79" width="1" height="1" fill="#000028"/>
<rect x="866" y="63" width="1" height="1" fill="#000028"/>
<rect x="866" y="79" width="1" height="1" fill="#000028"/>
<rect x="867" y="62" width="1" height="1" fill="#000028"/>
<rect x="867" y="80" width="1" height="1" fill="#000028"/>
<rect x="868" y="61" width="1" height="1" fill="#000028"/>
<rect x="868" y="81" width="1" height="1" fill="#000028"/>
<rect x="869" y="61" width="1" height="1" fill="#000028"/>
<rect x="869" y="81" width="1" height="1" fill="#000028"/>
<rect x="870" y="61" width="1" height="1" fill="#000028"/>
<rect x="870" y="81" width="1" height="1" fill="#000028"/>
<rect x="871" y="60" width="1" height="1" fill="#000028"/>
<rect x="871" y="82" width="1" height="1" fill="#000028"/>
<rect x="872" y="60" width="1" height="1" fill="#000028"/>
<rect x="872" y="82" width="1" height="1" fill="#000028"/>
<rect x="873" y="60" width="1" height="1" fill="#000028"/>
<rect x="873" y="82" width="1" height="1" fill="#000028"/>
<rect x="874" y="60" width="1" height="1" fill="#000028"/>
<rect x="874" y="82" width="1" height="1" fill="#000028"/>
<rect x="875" y="60" width="1" height="1" fill="#000028"/>
<rect x="875" y="82" width="1" height="1" fill="#000028"/>
<rect x="876" y="61" width="1" height="1" fill="#000028"/>
<rect x="876" y="81" width="1" height="1" fill="#000028"/>
<rect x="877" y="61" width="1" height="1" fill="#000028"/>
<rect x="877" y="81" width="1" height="1" fill="#000028"/>
<rect x="878" y="61" width="1" height="1" fill="#000028"/>
<rect x="878" y="81" width="1" height="1" fill="#000028"/>
<rect x="879" y="62" width="1" height="1" fill="#000028"/>
<rect x="879" y="80" width="1" height="1" fill="#000028"/>
<rect x="880" y="63" width="1" height="1" fill="#000028"/>
<rect x="880" y="79" width="1" height="1" fill="#000028"/>
<rect x="881" y="63" width="1" height="1" fill="#000028"/>
<rect x="881" y="64" width="1" height="1" fill="#000028"/>
<rect x="881" y="78" width="1" height="1" fill="#000028"/>
<rect x="881" y="79" width="1" height="1" fill="#000028"/>
<rect x="882" y="65" width="1" height="1" fill="#000028"/>
<rect x="882" y="77" width="1" height="1" fill="#000028"/>
<rect x="883" y="66" width="1" height="1" fill="#000028"/>
<rect x="883" y="67" width="1" height="1" fill="#000028"/>
<rect x="883" y="68" width="1" height="1" fill="#000028"/>
<rect x="883" y="74" width="1" height="1" fill="#000028"/>
<rect x="883" y="75" width="1" height="1" fill="#000028"/>
<rect x="883" y="76" width="1" height="1" fill="#000028"/>
<rect x="884" y="69" width="1" height="1" fill="#000028"/>
<rect x="884" y="70" width="1" height="1" fill="#000028"/>
<rect x="884" y="71" width="1" height="1" fill="#000028"/>
<rect x="884" y="72" width="1" height="1" fill="#000028"/>
<rect x="884" y="73" width="1" height="1" fill="#000028"/>
<rect x="870" y="65" width="1" height="1" fill="#000028"/>
<rect x="876" y="65" width="1" height="1" fill="#000028"/>
<rect x="870" y="66" width="1" height="1" fill="#000028"/>
<rect x="875" y="66" width="2" height="1" fill="#000028"/>
<rect x="870" y="67" width="2" height="1" fill="#000028"/>
<rect x="875" y="67" width="2" height="1" fill="#000028"/>
<rect x="870" y="68" width="2" height="1" fill="#000028"/>
<rect x="874" y="68" width="1" height="1" fill="#000028"/>
<rect x="876" y="68" width="1" height="1" fill="#000028"/>
<rect x="870" y="69" width="1" height="1" fill="#000028"/>
<rect x="872" y="69" width="1" height="1" fill="#000028"/>
<rect x="874" y="69" width="1" height="1" fill="#000028"/>
<rect x="876" y="69" width="1" height="1" fill="#000028"/>
<rect x="870" y="70" width="1" height="1" fill="#000028"/>
<rect x="873" y="70" width="1" height="1" fill="#000028"/>
<rect x="876" y="70" width="1" height="1" fill="#000028"/>
<rect x="870" y="71" width="1" height="1" fill="#000028"/>
<rect x="876" y="71" width="1" height="1" fill="#000028"/>
<rect x="870" y="72" width="1" height="1" fill="#000028"/>
<rect x="876" y="72" width="1" height="1" fill="#000028"/>
<rect x="870" y="73" width="1" height="1" fill="#000028"/>
<rect x="876" y="73" width="1" height="1" fill="#000028"/>
<rect x="870" y="74" width="1" height="1" fill="#000028"/>
<rect x="876" y="74" width="1" height="1" fill="#000028"/>
<rect x="870" y="75" width="1" height="1" fill="#000028"/>
<rect x="876" y="75" width="1" height="1" fill="#000028"/>
<rect x="870" y="76" width="1" height="1" fill="#000028"/>
<rect x="876" y="76" width="1" height="1" fill="#000028"/>
<rect x="870" y="77" width="1" height="1" fill="#000028"/>
<rect x="873" y="57" width="1" height="3" fill="#ff0000"/>
<rect x="859" y="71" width="3" height="1" fill="#ff0000"/>
<rect x="885" y="71" width="3" height="1" fill="#ff0000"/>
<rect x="873" y="83" width="1" height="3" fill="#ff0000"/>
<rect x="875" y="56" width="2" height="1" fill="#00ff00"/>
<rect x="876" y="57" width="1" height="1" fill="#00ff00"/>
<rect x="876" y="58" width="1" height="1" fill="#00ff00"/>
<rect x="859" y="73" width="2" height="1" fill="#00ff00"/>
<rect x="860" y="74" width="1" height="1" fill="#00ff00"/>
<rect x="859" y="75" width="1" height="1" fill="#00ff00"/>
<rect x="887" y="73" width="1" height="1" fill="#00ff00"/>
<rect x="886" y="74" width="2" height="1" fill="#00ff00"/>
<rect x="886" y="75" width="2" height="1" fill="#00ff00"/>
<rect x="871" y="85" width="1" height="1" fill="#00ff00"/>
<rect x="870" y="86" width="2" height="1" fill="#00ff00"/>
<rect x="873" y="86" width="1" height="27" fill="#000"/>
<rect x="879" y="86" width="1" height="1" fill="#000028"/>
<rect x="884" y="86" width="1" height="1" fill="#000028"/>
<rect x="888" y="86" width="1" height="1" fill="#000028"/>
<rect x="879" y="87" width="2" height="1" fill="#000028"/>
<rect x="883" y="87" width="2" height="1" fill="#000028"/>
<rect x="887" y="87" width="2" height="1" fill="#000028"/>
<rect x="879" y="88" width="2" height="1" fill="#000028"/>
<rect x="883" y="88" width="2" height="1" fill="#000028"/>
<rect x="886" y="88" width="1" height="1" fill="#000028"/>
<rect x="888" y="88" width="1" height="1" fill="#000028"/>
<rect x="879" y="89" width="1" height="1" fill="#000028"/>
<rect x="881" y="89" width="1" height="1" fill="#000028"/>
<rect x="884" y="89" width="1" height="1" fill="#000028"/>
<rect x="888" y="89" width="1" height="1" fill="#000028"/>
<rect x="879" y="90" width="1" height="1" fill="#000028"/>
<rect x="882" y="90" width="1" height="1" fill="#000028"/>
<rect x="884" y="90" width="1" height="1" fill="#000028"/>
<rect x="888" y="90" width="1" height="1" fill="#000028"/>
<rect x="879" y="91" width="1" height="1" fill="#000028"/>
<rect x="884" y="91" width="1" height="1" fill="#000028"/>
<rect x="888" y="91" width="1" height="1" fill="#000028"/>
<rect x="879" y="92" width="1" height="1" fill="#000028"/>
<rect x="884" y="92" width="1" height="1" fill="#000028"/>
<rect x="888" y="92" width="1" height="1" fill="#000028"/>
<rect x="879" y="93" width="1" height="1" fill="#000028"/>
<rect x="884" y="93" width="1" height="1" fill="#000028"/>
<rect x="888" y="93" width="1" height="1" fill="#000028"/>
<rect x="879" y="94" width="1" height="1" fill="#000028"/>
<rect x="850" y="113" width="48" height="1" fill="#000028"/>
<rect x="850" y="184" width="48" height="1" fill="#000028"/>
<rect x="850" y="113" width="1" height="72" fill="#000028"/>
<rect x="897" y="113" width="1" height="72" fill="#000028"/>
<rect x="850" y="125" width="48" height="1" fill="#000028"/>
<rect x="850" y="172" width="48" height="1" fill="#000028"/>
<rect x="854" y="128" width="3" height="1" fill="#000028"/>
<rect x="853" y="129" width="1" height="1" fill="#000028"/>
<rect x="857" y="129" width="1" height="1" fill="#000028"/>
<rect x="853" y="130" width="1" height="1" fill="#000028"/>
<rect x="857" y="130" width="1" height="1" fill="#000028"/>
<rect x="853" y="131" width="1" height="1" fill="#000028"/>
<rect x="857" y="131" width="1" height="1" fill="#000028"/>
<rect x="854" y="132" width="3" height="1" fill="#000028"/>
<rect x="855" y="129" width="1" height="1" fill="#000028"/>
<rect x="855" y="130" width="2" height="1" fill="#000028"/>
<rect x="855" y="131" width="1" height="1" fill="#000028"/>
<rect x="872" y="128" width="3" height="1" fill="#000028"/>
<rect x="871" y="129" width="1" height="1" fill="#000028"/>
<rect x="875" y="129" width="1" height="1" fill="#000028"/>
<rect x="871" y="130" width="1" height="1" fill="#000028"/>
<rect x="875" y="130" width="1" height="1" fill="#000028"/>
<rect x="871" y="131" width="1" height="1" fill="#000028"/>
<rect x="875" y="131" width="1" height="1" fill="#000028"/>
<rect x="872" y="132" width="3" height="1" fill="#000028"/>
<rect x="873" y="129" width="1" height="1" fill="#000028"/>
<rect x="872" y="130" width="1" height="1" fill="#000028"/>
<rect x="874" y="130" width="1" height="1" fill="#000028"/>
<rect x="873" y="131" width="1" height="1" fill="#000028"/>
<rect x="890" y="128" width="3" height="1" fill="#000028"/>
<rect x="889" y="129" width="1" height="1" fill="#000028"/>
<rect x="893" y="129" width="1" height="1" fill="#000028"/>
<rect x="889" y="130" width="1" height="1" fill="#000028"/>
<rect x="893" y="130" width="1" height="1" fill="#000028"/>
<rect x="889" y="131" width="1" height="1" fill="#000028"/>
<rect x="893" y="131" width="1" height="1" fill="#000028"/>
<rect x="890" y="132" width="3" height="1" fill="#000028"/>
<rect x="890" y="129" width="1" height="1" fill="#000028"/>
<rect x="890" y="130" width="2" height="1" fill="#000028"/>
<rect x="890" y="131" width="1" height="1" fill="#000028"/>
<rect x="863" y="137" width="3" height="1" fill="#000028"/>
<rect x="862" y="138" width="1" height="1" fill="#000028"/>
<rect x="866" y="138" width="1" height="1" fill="#000028"/>
<rect x="862" y="139" width="1" height="1" fill="#000028"/>
<rect x="866" y="139" width="1" height="1" fill="#000028"/>
<rect x="862" y="140" width="1" height="1" fill="#000028"/>
<rect x="866" y="140" width="1" height="1" fill="#000028"/>
<rect x="863" y="141" width="3" height="1" fill="#000028"/>
<rect x="864" y="138" width="1" height="1" fill="#000028"/>
<rect x="863" y="139" width="1" height="1" fill="#000028"/>
<rect x="865" y="139" width="1" height="1" fill="#000028"/>
<rect x="864" y="140" width="1" height="1" fill="#000028"/>
<rect x="881" y="137" width="3" height="1" fill="#000028"/>
<rect x="880" y="138" width="1" height="1" fill="#000028"/>
<rect x="884" y="138" width="1" height="1" fill="#000028"/>
<rect x="880" y="139" width="1" height="1" fill="#000028"/>
<rect x="884" y="139" width="1" height="1" fill="#000028"/>
<rect x="880" y="140" width="1" height="1" fill="#000028"/>
<rect x="884" y="140" width="1" height="1" fill="#000028"/>
<rect x="881" y="141" width="3" height="1" fill="#000028"/>
<rect x="882" y="138" width="1" height="1" fill="#000028"/>
<rect x="881" y="139" width="1" height="1" fill="#000028"/>
<rect x="883" y="139" width="1" height="1" fill="#000028"/>
<rect x="882" y="140" width="1" height="1" fill="#000028"/>
<rect x="854" y="146" width="3" height="1" fill="#000028"/>
<rect x="853" y="147" width="1" height="1" fill="#000028"/>
<rect x="857" y="147" width="1" height="1" fill="#000028"/>
<rect x="853" y="148" width="1" height="1" fill="#000028"/>
<rect x="857" y="148" width="1" height="1" fill="#000028"/>
<rect x="853" y="149" width="1" height="1" fill="#000028"/>
<rect x="857" y="149" width="1" height="1" fill="#000028"/>
<rect x="854" y="150" width="3" height="1" fill="#000028"/>
<rect x="855" y="147" width="1" height="1" fill="#000028"/>
<rect x="855" y="148" width="1" height="1" fill="#000028"/>
<rect x="872" y="146" width="3" height="1" fill="#000028"/>
<rect x="871" y="147" width="1" height="1" fill="#000028"/>
<rect x="875" y="147" width="1" height="1" fill="#000028"/>
<rect x="871" y="148" width="1" height="1" fill="#000028"/>
<rect x="875" y="148" width="1" height="1" fill="#000028"/>
<rect x="871" y="149" width="1" height="1" fill="#000028"/>
<rect x="875" y="149" width="1" height="1" fill="#000028"/>
<rect x="872" y="150" width="3" height="1" fill="#000028"/>
<rect x="872" y="147" width="3" height="1" fill="#000028"/>
<rect x="873" y="148" width="1" height="1" fill="#000028"/>
<rect x="890" y="146" width="3" height="1" fill="#000028"/>
<rect x="889" y="147" width="1" height="1" fill="#000028"/>
<rect x="893" y="147" width="1" height="1" fill="#000028"/>
<rect x="889" y="148" width="1" height="1" fill="#000028"/>
<rect x="893" y="148" width="1" height="1" fill="#000028"/>
<rect x="889" y="149" width="1" height="1" fill="#000028"/>
<rect x="893" y="149" width="1" height="1" fill="#000028"/>
<rect x="890" y="150" width="3" height="1" fill="#000028"/>
<rect x="890" y="147" width="1" height="1" fill="#000028"/>
<rect x="890" y="148" width="1" height="1" fill="#000028"/>
<rect x="863" y="155" width="3" height="1" fill="#000028"/>
<rect x="862" y="156" width="1" height="1" fill="#000028"/>
<rect x="866" y="156" width="1" height="1" fill="#000028"/>
<rect x="862" y="157" width="1" height="1" fill="#000028"/>
<rect x="866" y="157" width="1" height="1" fill="#000028"/>
<rect x="862" y="158" width="1" height="1" fill="#000028"/>
<rect x="866" y="158" width="1" height="1" fill="#000028"/>
<rect x="863" y="159" width="3" height="1" fill="#000028"/>
<rect x="863" y="156" width="3" height="1" fill="#000028"/>
<rect x="864" y="157" width="1" height="1" fill="#000028"/>
<rect x="881" y="155" width="3" height="1" fill="#000028"/>
<rect x="880" y="156" width="1" height="1" fill="#000028"/>
<rect x="884" y="156" width="1" height="1" fill="#000028"/>
<rect x="880" y="157" width="1" height="1" fill="#000028"/>
<rect x="884" y="157" width="1" height="1" fill="#000028"/>
<rect x="880" y="158" width="1" height="1" fill="#000028"/>
<rect x="884" y="158" width="1" height="1" fill="#000028"/>
<rect x="881" y="159" width="3" height="1" fill="#000028"/>
<rect x="881" y="156" width="3" height="1" fill="#000028"/>
<rect x="882" y="157" width="1" height="1" fill="#000028"/>
<rect x="854" y="164" width="3" height="1" fill="#000028"/>
<rect x="853" y="165" width="1" height="1" fill="#000028"/>
<rect x="855" y="165" width="1" height="1" fill="#000028"/>
<rect x="857" y="165" width="1" height="1" fill="#000028"/>
<rect x="853" y="166" width="1" height="1" fill="#000028"/>
<rect x="855" y="166" width="1" height="1" fill="#000028"/>
<rect x="857" y="166" width="1" height="1" fill="#000028"/>
<rect x="854" y="167" width="3" height="1" fill="#000028"/>
<rect x="872" y="164" width="3" height="1" fill="#000028"/>
<rect x="871" y="165" width="5" height="1" fill="#000028"/>
<rect x="871" y="166" width="1" height="1" fill="#000028"/>
<rect x="873" y="166" width="1" height="1" fill="#000028"/>
<rect x="875" y="166" width="1" height="1" fill="#000028"/>
<rect x="872" y="167" width="3" height="1" fill="#000028"/>
<rect x="890" y="164" width="3" height="1" fill="#000028"/>
<rect x="889" y="165" width="2" height="1" fill="#000028"/>
<rect x="893" y="165" width="1" height="1" fill="#000028"/>
<rect x="889" y="166" width="2" height="1" fill="#000028"/>
<rect x="893" y="166" width="1" height="1" fill="#000028"/>
<rect x="890" y="167" width="3" height="1" fill="#000028"/>
<rect x="856" y="110" width="1" height="3" fill="#ff0000"/>
<rect x="891" y="110" width="1" height="3" fill="#ff0000"/>
<rect x="847" y="119" width="3" height="1" fill="#ff0000"/>
<rect x="897" y="119" width="3" height="1" fill="#ff0000"/>
<rect x="847" y="142" width="3" height="1" fill="#ff0000"/>
<rect x="897" y="142" width="3" height="1" fill="#ff0000"/>
<rect x="847" y="178" width="3" height="1" fill="#ff0000"/>
<rect x="897" y="178" width="3" height="1" fill="#ff0000"/>
<rect x="873" y="184" width="1" height="1" fill="#ff0000"/>
<rect x="859" y="108" width="1" height="1" fill="#00ff00"/>
<rect x="858" y="109" width="1" height="1" fill="#00ff00"/>
<rect x="858" y="110" width="2" height="1" fill="#00ff00"/>
<rect x="877" y="108" width="2" height="1" fill="#00ff00"/>
<rect x="877" y="109" width="2" height="1" fill="#00ff00"/>
<rect x="878" y="110" width="1" height="1" fill="#00ff00"/>
<rect x="894" y="109" width="2" height="1" fill="#00ff00"/>
<rect x="894" y="110" width="2" height="1" fill="#00ff00"/>
<rect x="894" y="111" width="2" height="1" fill="#00ff00"/>
<rect x="846" y="121" width="2" height="1" fill="#00ff00"/>
<rect x="846" y="122" width="1" height="1" fill="#00ff00"/>
<rect x="847" y="123" width="1" height="1" fill="#00ff00"/>
<rect x="846" y="124" width="2" height="1" fill="#00ff00"/>
<rect x="846" y="138" width="2" height="1" fill="#00ff00"/>
<rect x="846" y="139" width="2" height="1" fill="#00ff00"/>
<rect x="847" y="140" width="1" height="1" fill="#00ff00"/>
<rect x="846" y="180" width="1" height="1" fill="#00ff00"/>
<rect x="845" y="181" width="1" height="1" fill="#00ff00"/>
<rect x="847" y="181" width="1" height="1" fill="#00ff00"/>
<rect x="846" y="182" width="1" height="1" fill="#00ff00"/>
<rect x="845" y="183" width="2" height="1" fill="#00ff00"/>
<rect x="899" y="121" width="2" height="1" fill="#00ff00"/>
<rect x="899" y="122" width="1" height="1" fill="#00ff00"/>
<rect x="898" y="138" width="5" height="1" fill="#00ff00"/>
<rect x="899" y="139" width="2" height="1" fill="#00ff00"/>
<rect x="902" y="139" width="1" height="1" fill="#00ff00"/>
<rect x="901" y="140" width="1" height="1" fill="#00ff00"/>
<rect x="899" y="180" width="2" height="1" fill="#00ff00"/>
<rect x="899" y="181" width="2" height="1" fill="#00ff00"/>
<rect x="899" y="182" width="2" height="1" fill="#00ff00"/>
<rect x="899" y="183" width="2" height="1" fill="#00ff00"/>
<rect x="877" y="188" width="2" height="1" fill="#00ff00"/>
<rect x="878" y="189" width="1" height="1" fill="#00ff00"/>
<rect x="848" y="187" width="5" height="1" fill="#000028"/>
<rect x="856" y="187" width="3" height="1" fill="#000028"/>
<rect x="848" y="188" width="1" height="1" fill="#000028"/>
<rect x="853" y="188" width="1" height="1" fill="#000028"/>
<rect x="855" y="188" width="1" height="1" fill="#000028"/>
<rect x="859" y="188" width="1" height="1" fill="#000028"/>
<rect x="848" y="189" width="1" height="1" fill="#000028"/>
<rect x="853" y="189" width="1" height="1" fill="#000028"/>
<rect x="855" y="189" width="1" height="1" fill="#000028"/>
<rect x="848" y="190" width="1" height="1" fill="#000028"/>
<rect x="852" y="190" width="1" height="1" fill="#000028"/>
<rect x="855" y="190" width="4" height="1" fill="#000028"/>
<rect x="848" y="191" width="4" height="1" fill="#000028"/>
<rect x="855" y="191" width="1" height="1" fill="#000028"/>
<rect x="859" y="191" width="1" height="1" fill="#000028"/>
<rect x="848" y="192" width="1" height="1" fill="#000028"/>
<rect x="853" y="192" width="1" height="1" fill="#000028"/>
<rect x="855" y="192" width="1" height="1" fill="#000028"/>
<rect x="859" y="192" width="1" height="1" fill="#000028"/>
<rect x="848" y="193" width="1" height="1" fill="#000028"/>
<rect x="853" y="193" width="1" height="1" fill="#000028"/>
<rect x="855" y="193" width="1" height="1" fill="#000028"/>
<rect x="859" y="193" width="1" height="1" fill="#000028"/>
<rect x="848" y="194" width="1" height="1" fill="#000028"/>
<rect x="853" y="194" width="1" height="1" fill="#000028"/>
<rect x="855" y="194" width="1" height="1" fill="#000028"/>
<rect x="859" y="194" width="1" height="1" fill="#000028"/>
<rect x="848" y="195" width="1" height="1" fill="#000028"/>
<rect x="852" y="195" width="1" height="1" fill="#000028"/>
<rect x="855" y="195" width="1" height="1" fill="#000028"/>
<rect x="859" y="195" width="1" height="1" fill="#000028"/>
<rect x="848" y="196" width="4" height="1" fill="#000028"/>
<rect x="856" y="196" width="3" height="1" fill="#000028"/>
<rect x="936" y="101" width="1" height="1" fill="#009600"/>
<rect x="937" y="101" width="1" height="1" fill="#009600"/>
<rect x="934" y="102" width="1" height="1" fill="#009600"/>
<rect x="935" y="102" width="1" height="1" fill="#009600"/>
<rect x="932" y="103" width="1" height="1" fill="#009600"/>
<rect x="933" y="103" width="1" height="1" fill="#009600"/>
<rect x="931" y="104" width="1" height="1" fill="#009600"/>
<rect x="930" y="105" width="1" height="1" fill="#009600"/>
<rect x="929" y="106" width="1" height="1" fill="#009600"/>
<rect x="928" y="107" width="1" height="1" fill="#009600"/>
<rect x="928" y="108" width="1" height="1" fill="#009600"/>
<rect x="927" y="109" width="1" height="1" fill="#009600"/>
<rect x="927" y="110" width="1" height="1" fill="#009600"/>
<rect x="927" y="111" width="1" height="1" fill="#009600"/>
<rect x="927" y="112" width="1" height="1" fill="#009600"/>
<rect x="939" y="101" width="1" height="1" fill="#009600"/>
<rect x="940" y="101" width="1" height="1" fill="#009600"/>
<rect x="941" y="102" width="1" height="1" fill="#009600"/>
<rect x="942" y="102" width="1" height="1" fill="#009600"/>
<rect x="943" y="102" width="1" height="1" fill="#009600"/>
<rect x="944" y="103" width="1" height="1" fill="#009600"/>
<rect x="945" y="103" width="1" height="1" fill="#009600"/>
<rect x="946" y="104" width="1" height="1" fill="#009600"/>
<rect x="947" y="105" width="1" height="1" fill="#009600"/>
<rect x="948" y="106" width="1" height="1" fill="#009600"/>
<rect x="949" y="107" width="1" height="1" fill="#009600"/>
<rect x="949" y="108" width="1" height="1" fill="#009600"/>
<rect x="949" y="109" width="1" height="1" fill="#009600"/>
<rect x="950" y="110" width="1" height="1" fill="#009600"/>
<rect x="950" y="111" width="1" height="1" fill="#009600"/>
<rect x="950" y="112" width="1" height="1" fill="#009600"/>
<rect x="927" y="114" width="1" height="1" fill="#009600"/>
<rect x="927" y="115" width="1" height="1" fill="#009600"/>
<rect x="927" y="116" width="1" height="1" fill="#009600"/>
<rect x="927" y="117" width="1" height="1" fill="#009600"/>
<rect x="928" y="118" width="1" height="1" fill="#009600"/>
<rect x="928" y="119" width="1" height="1" fill="#009600"/>
<rect x="929" y="120" width="1" height="1" fill="#009600"/>
<rect x="930" y="121" width="1" height="1" fill="#009600"/>
<rect x="931" y="122" width="1" height="1" fill="#009600"/>
<rect x="932" y="123" width="1" height="1" fill="#009600"/>
<rect x="933" y="123" width="1" height="1" fill="#009600"/>
<rect x="934" y="124" width="1" height="1" fill="#009600"/>
<rect x="935" y="124" width="1" height="1" fill="#009600"/>
<rect x="936" y="124" width="1" height="1" fill="#009600"/>
<rect x="937" y="125" width="1" height="1" fill="#009600"/>
<rect x="950" y="114" width="1" height="1" fill="#009600"/>
<rect x="950" y="115" width="1" height="1" fill="#009600"/>
<rect x="950" y="116" width="1" height="1" fill="#009600"/>
<rect x="949" y="117" width="1" height="1" fill="#009600"/>
<rect x="949" y="118" width="1" height="1" fill="#009600"/>
<rect x="949" y="119" width="1" height="1" fill="#009600"/>
<rect x="948" y="120" width="1" height="1" fill="#009600"/>
<rect x="947" y="121" width="1" height="1" fill="#009600"/>
<rect x="945" y="122" width="1" height="1" fill="#009600"/>
<rect x="946" y="122" width="1" height="1" fill="#009600"/>
<rect x="943" y="123" width="1" height="1" fill="#009600"/>
<rect x="944" y="123" width="1" height="1" fill="#009600"/>
<rect x="940" y="124" width="1" height="1" fill="#009600"/>
<rect x="941" y="124" width="1" height="1" fill="#009600"/>
<rect x="942" y="124" width="1" height="1" fill="#009600"/>
<rect x="939" y="125" width="1" height="1" fill="#009600"/>
<rect x="927" y="113" width="23" height="1" fill="#009600"/>
<rect x="938" y="99" width="1" height="3" fill="#ff0000"/>
<rect x="924" y="113" width="3" height="1" fill="#ff0000"/>
<rect x="950" y="113" width="3" height="1" fill="#ff0000"/>
<rect x="938" y="126" width="1" height="3" fill="#ff0000"/>
<rect x="941" y="96" width="2" height="1" fill="#00ff00"/>
<rect x="941" y="97" width="2" height="1" fill="#00ff00"/>
<rect x="941" y="98" width="1" height="1" fill="#00ff00"/>
<rect x="941" y="99" width="1" height="1" fill="#00ff00"/>
<rect x="922" y="114" width="2" height="1" fill="#00ff00"/>
<rect x="923" y="115" width="1" height="1" fill="#00ff00"/>
<rect x="923" y="116" width="1" height="1" fill="#00ff00"/>
<rect x="953" y="114" width="1" height="1" fill="#00ff00"/>
<rect x="953" y="115" width="1" height="1" fill="#00ff00"/>
<rect x="942" y="126" width="1" height="1" fill="#00ff00"/>
<rect x="941" y="127" width="2" height="1" fill="#00ff00"/>
<rect x="941" y="128" width="1" height="1" fill="#00ff00"/>
<rect x="938" y="129" width="1" height="26" fill="#009600"/>
<rect x="882" y="178" width="1" height="1" fill="#009600"/>
<rect x="883" y="178" width="1" height="1" fill="#009600"/>
<rect x="884" y="177" width="1" height="1" fill="#009600"/>
<rect x="885" y="177" width="1" height="1" fill="#009600"/>
<rect x="886" y="176" width="1" height="1" fill="#009600"/>
<rect x="887" y="176" width="1" height="1" fill="#009600"/>
<rect x="888" y="175" width="1" height="1" fill="#009600"/>
<rect x="889" y="175" width="1" height="1" fill="#009600"/>
<rect x="890" y="175" width="1" height="1" fill="#009600"/>
<rect x="891" y="174" width="1" height="1" fill="#009600"/>
<rect x="892" y="174" width="1" height="1" fill="#009600"/>
<rect x="893" y="173" width="1" height="1" fill="#009600"/>
<rect x="894" y="173" width="1" height="1" fill="#009600"/>
<rect x="895" y="172" width="1" height="1" fill="#009600"/>
<rect x="896" y="172" width="1" height="1" fill="#009600"/>
<rect x="897" y="172" width="1" height="1" fill="#009600"/>
<rect x="898" y="171" width="1" height="1" fill="#009600"/>
<rect x="899" y="171" width="1" height="1" fill="#009600"/>
<rect x="900" y="170" width="1" height="1" fill="#009600"/>
<rect x="901" y="170" width="1" height="1" fill="#009600"/>
<rect x="902" y="169" width="1" height="1" fill="#009600"/>
<rect x="903" y="169" width="1" height="1" fill="#009600"/>
<rect x="904" y="169" width="1" height="1" fill="#009600"/>
<rect x="905" y="168" width="1" height="1" fill="#009600"/>
<rect x="906" y="168" width="1" height="1" fill="#009600"/>
<rect x="907" y="167" width="1" height="1" fill="#009600"/>
<rect x="908" y="167" width="1" height="1" fill="#009600"/>
<rect x="909" y="166" width="1" height="1" fill="#009600"/>
<rect x="910" y="166" width="1" height="1" fill="#009600"/>
<rect x="911" y="166" width="1" height="1" fill="#009600"/>
<rect x="912" y="165" width="1" height="1" fill="#009600"/>
<rect x="913" y="165" width="1" height="1" fill="#009600"/>
<rect x="914" y="164" width="1" height="1" fill="#009600"/>
<rect x="915" y="164" width="1" height="1" fill="#009600"/>
<rect x="916" y="163" width="1" height="1" fill="#009600"/>
<rect x="917" y="163" width="1" height="1" fill="#009600"/>
<rect x="918" y="163" width="1" height="1" fill="#009600"/>
<rect x="919" y="162" width="1" height="1" fill="#009600"/>
<rect x="920" y="162" width="1" height="1" fill="#009600"/>
<rect x="921" y="161" width="1" height="1" fill="#009600"/>
<rect x="922" y="161" width="1" height="1" fill="#009600"/>
<rect x="923" y="160" width="1" height="1" fill="#009600"/>
<rect x="924" y="160" width="1" height="1" fill="#009600"/>
<rect x="925" y="160" width="1" height="1" fill="#009600"/>
<rect x="926" y="159" width="1" height="1" fill="#009600"/>
<rect x="927" y="159" width="1" height="1" fill="#009600"/>
<rect x="928" y="158" width="1" height="1" fill="#009600"/>
<rect x="929" y="158" width="1" height="1" fill="#009600"/>
<rect x="930" y="157" width="1" height="1" fill="#009600"/>
<rect x="931" y="157" width="1" height="1" fill="#009600"/>
<rect x="932" y="157" width="1" height="1" fill="#009600"/>
<rect x="933" y="156" width="1" height="1" fill="#009600"/>
<rect x="934" y="156" width="1" height="1" fill="#009600"/>
<rect x="935" y="155" width="1" height="1" fill="#009600"/>
<rect x="936" y="155" width="1" height="1" fill="#009600"/>
<rect x="937" y="154" width="1" height="1" fill="#009600"/>
<rect x="938" y="154" width="1" height="1" fill="#009600"/>
<rect x="879" y="177" width="2" height="1" fill="#009600"/>
<rect x="878" y="178" width="1" height="1" fill="#009600"/>
<rect x="881" y="178" width="1" height="1" fill="#009600"/>
<rect x="878" y="179" width="1" height="1" fill="#009600"/>
<rect x="881" y="179" width="1" height="1" fill="#009600"/>
<rect x="879" y="180" width="2" height="1" fill="#009600"/>
<rect x="873" y="185" width="1" height="26" fill="#000"/>
<rect x="868" y="213" width="12" height="1" fill="#000028"/>
<rect x="868" y="237" width="12" height="1" fill="#000028"/>
<rect x="868" y="214" width="1" height="1" fill="#000028"/>
<rect x="869" y="215" width="1" height="1" fill="#000028"/>
<rect x="869" y="216" width="1" height="1" fill="#000028"/>
<rect x="870" y="217" width="1" height="1" fill="#000028"/>
<rect x="870" y="218" width="1" height="1" fill="#000028"/>
<rect x="870" y="219" width="1" height="1" fill="#000028"/>
<rect x="871" y="220" width="1" height="1" fill="#000028"/>
<rect x="871" y="221" width="1" height="1" fill="#000028"/>
<rect x="872" y="222" width="1" height="1" fill="#000028"/>
<rect x="872" y="223" width="1" height="1" fill="#000028"/>
<rect x="873" y="224" width="1" height="1" fill="#000028"/>
<rect x="873" y="225" width="1" height="1" fill="#000028"/>
<rect x="873" y="226" width="1" height="1" fill="#000028"/>
<rect x="878" y="214" width="1" height="1" fill="#000028"/>
<rect x="877" y="215" width="1" height="1" fill="#000028"/>
<rect x="877" y="216" width="1" height="1" fill="#000028"/>
<rect x="876" y="217" width="1" height="1" fill="#000028"/>
<rect x="876" y="218" width="1" height="1" fill="#000028"/>
<rect x="875" y="219" width="1" height="1" fill="#000028"/>
<rect x="875" y="220" width="1" height="1" fill="#000028"/>
<rect x="874" y="221" width="1" height="1" fill="#000028"/>
<rect x="874" y="222" width="1" height="1" fill="#000028"/>
<rect x="874" y="223" width="1" height="1" fill="#000028"/>
<rect x="872" y="227" width="1" height="1" fill="#000028"/>
<rect x="872" y="228" width="1" height="1" fill="#000028"/>
<rect x="871" y="229" width="1" height="1" fill="#000028"/>
<rect x="871" y="230" width="1" height="1" fill="#000028"/>
<rect x="870" y="231" width="1" height="1" fill="#000028"/>
<rect x="870" y="232" width="1" height="1" fill="#000028"/>
<rect x="869" y="233" width="1" height="1" fill="#000028"/>
<rect x="869" y="234" width="1" height="1" fill="#000028"/>
<rect x="868" y="235" width="1" height="1" fill="#000028"/>
<rect x="868" y="236" width="1" height="1" fill="#000028"/>
<rect x="874" y="227" width="1" height="1" fill="#000028"/>
<rect x="874" y="228" width="1" height="1" fill="#000028"/>
<rect x="875" y="229" width="1" height="1" fill="#000028"/>
<rect x="875" y="230" width="1" height="1" fill="#000028"/>
<rect x="876" y="231" width="1" height="1" fill="#000028"/>
<rect x="876" y="232" width="1" height="1" fill="#000028"/>
<rect x="877" y="233" width="1" height="1" fill="#000028"/>
<rect x="877" y="234" width="1" height="1" fill="#000028"/>
<rect x="878" y="235" width="1" height="1" fill="#000028"/>
<rect x="878" y="236" width="1" height="1" fill="#000028"/>
<rect x="873" y="211" width="1" height="3" fill="#ff0000"/>
<rect x="871" y="225" width="3" height="1" fill="#ff0000"/>
<rect x="873" y="238" width="1" height="3" fill="#ff0000"/>
<rect x="869" y="211" width="2" height="1" fill="#00ff00"/>
<rect x="869" y="212" width="1" height="1" fill="#00ff00"/>
<rect x="871" y="212" width="1" height="1" fill="#00ff00"/>
<rect x="868" y="223" width="3" height="1" fill="#00ff00"/>
<rect x="868" y="224" width="1" height="1" fill="#00ff00"/>
<rect x="869" y="240" width="2" height="1" fill="#00ff00"/>
<rect x="870" y="241" width="1" height="1" fill="#00ff00"/>
<rect x="884" y="226" width="3" height="1" fill="#000028"/>
<rect x="883" y="227" width="1" height="1" fill="#000028"/>
<rect x="887" y="227" width="1" height="1" fill="#000028"/>
<rect x="891" y="227" width="1" height="1" fill="#000028"/>
<rect x="883" y="228" width="1" height="1" fill="#000028"/>
<rect x="888" y="228" width="2" height="1" fill="#000028"/>
<rect x="891" y="228" width="1" height="1" fill="#000028"/>
<rect x="883" y="229" width="1" height="1" fill="#000028"/>
<rect x="890" y="229" width="2" height="1" fill="#000028"/>
<rect x="884" y="230" width="1" height="1" fill="#000028"/>
<rect x="891" y="230" width="1" height="1" fill="#000028"/>
<rect x="884" y="232" width="1" height="1" fill="#000028"/>
<rect x="885" y="233" width="3" height="1" fill="#000028"/>
<rect x="888" y="234" width="2" height="1" fill="#000028"/>
<rect x="889" y="235" width="3" height="1" fill="#000028"/>
<rect x="885" y="236" width="4" height="1" fill="#000028"/>
<rect x="883" y="237" width="2" height="1" fill="#000028"/>
<rect x="873" y="241" width="1" height="80" fill="#000"/>
<rect x="551" y="320" width="166" height="1" fill="#000"/>
<rect x="746" y="320" width="128" height="1" fill="#000"/>
<rect x="519" y="320" width="1" height="1" fill="#000028"/>
<rect x="520" y="319" width="1" height="1" fill="#000028"/>
<rect x="521" y="318" width="1" height="1" fill="#000028"/>
<rect x="522" y="317" width="1" height="1" fill="#000028"/>
<rect x="523" y="316" width="1" height="1" fill="#000028"/>
<rect x="524" y="315" width="1" height="1" fill="#000028"/>
<rect x="525" y="314" width="1" height="1" fill="#000028"/>
<rect x="526" y="313" width="1" height="1" fill="#000028"/>
<rect x="527" y="312" width="1" height="1" fill="#000028"/>
<rect x="528" y="311" width="1" height="1" fill="#000028"/>
<rect x="529" y="310" width="1" height="1" fill="#000028"/>
<rect x="530" y="309" width="1" height="1" fill="#000028"/>
<rect x="531" y="308" width="1" height="1" fill="#000028"/>
<rect x="531" y="308" width="1" height="7" fill="#000028"/>
<rect x="531" y="314" width="18" height="1" fill="#000028"/>
<rect x="548" y="314" width="1" height="13" fill="#000028"/>
<rect x="531" y="326" width="18" height="1" fill="#000028"/>
<rect x="531" y="326" width="1" height="6" fill="#000028"/>
<rect x="519" y="320" width="1" height="1" fill="#000028"/>
<rect x="520" y="321" width="1" height="1" fill="#000028"/>
<rect x="521" y="322" width="1" height="1" fill="#000028"/>
<rect x="522" y="323" width="1" height="1" fill="#000028"/>
<rect x="523" y="324" width="1" height="1" fill="#000028"/>
<rect x="524" y="325" width="1" height="1" fill="#000028"/>
<rect x="525" y="326" width="1" height="1" fill="#000028"/>
<rect x="526" y="326" width="1" height="1" fill="#000028"/>
<rect x="527" y="327" width="1" height="1" fill="#000028"/>
<rect x="528" y="328" width="1" height="1" fill="#000028"/>
<rect x="529" y="329" width="1" height="1" fill="#000028"/>
<rect x="530" y="330" width="1" height="1" fill="#000028"/>
<rect x="531" y="331" width="1" height="1" fill="#000028"/>
<rect x="507" y="307" width="4" height="1" fill="#000028"/>
<rect x="513" y="307" width="6" height="1" fill="#000028"/>
<rect x="506" y="308" width="1" height="1" fill="#000028"/>
<rect x="511" y="308" width="1" height="1" fill="#000028"/>
<rect x="517" y="308" width="1" height="1" fill="#000028"/>
<rect x="507" y="309" width="5" height="1" fill="#000028"/>
<rect x="516" y="309" width="1" height="1" fill="#000028"/>
<rect x="506" y="310" width="1" height="1" fill="#000028"/>
<rect x="511" y="310" width="1" height="1" fill="#000028"/>
<rect x="515" y="310" width="1" height="1" fill="#000028"/>
<rect x="506" y="311" width="1" height="1" fill="#000028"/>
<rect x="511" y="311" width="1" height="1" fill="#000028"/>
<rect x="515" y="311" width="1" height="1" fill="#000028"/>
<rect x="506" y="312" width="1" height="1" fill="#000028"/>
<rect x="510" y="312" width="2" height="1" fill="#000028"/>
<rect x="514" y="312" width="1" height="1" fill="#000028"/>
<rect x="507" y="313" width="3" height="1" fill="#000028"/>
<rect x="513" y="313" width="5" height="1" fill="#000028"/>
<rect x="617" y="301" width="1" height="1" fill="#000028"/>
<rect x="621" y="301" width="2" height="1" fill="#000028"/>
<rect x="626" y="301" width="2" height="1" fill="#000028"/>
<rect x="616" y="302" width="2" height="1" fill="#000028"/>
<rect x="620" y="302" width="1" height="1" fill="#000028"/>
<rect x="623" y="302" width="1" height="1" fill="#000028"/>
<rect x="625" y="302" width="1" height="1" fill="#000028"/>
<rect x="628" y="302" width="1" height="1" fill="#000028"/>
<rect x="615" y="303" width="1" height="1" fill="#000028"/>
<rect x="617" y="303" width="1" height="1" fill="#000028"/>
<rect x="623" y="303" width="1" height="1" fill="#000028"/>
<rect x="628" y="303" width="1" height="1" fill="#000028"/>
<rect x="617" y="304" width="1" height="1" fill="#000028"/>
<rect x="622" y="304" width="1" height="1" fill="#000028"/>
<rect x="627" y="304" width="1" height="1" fill="#000028"/>
<rect x="617" y="305" width="1" height="1" fill="#000028"/>
<rect x="621" y="305" width="1" height="1" fill="#000028"/>
<rect x="628" y="305" width="1" height="1" fill="#000028"/>
<rect x="617" y="306" width="1" height="1" fill="#000028"/>
<rect x="621" y="306" width="1" height="1" fill="#000028"/>
<rect x="628" y="306" width="1" height="1" fill="#000028"/>
<rect x="620" y="307" width="3" height="1" fill="#000028"/>
<rect x="626" y="307" width="2" height="1" fill="#000028"/>
<rect x="887" y="282" width="1" height="1" fill="#000028"/>
<rect x="891" y="282" width="3" height="1" fill="#000028"/>
<rect x="896" y="282" width="3" height="1" fill="#000028"/>
<rect x="886" y="283" width="2" height="1" fill="#000028"/>
<rect x="890" y="283" width="1" height="1" fill="#000028"/>
<rect x="894" y="283" width="2" height="1" fill="#000028"/>
<rect x="898" y="283" width="1" height="1" fill="#000028"/>
<rect x="887" y="284" width="1" height="1" fill="#000028"/>
<rect x="893" y="284" width="2" height="1" fill="#000028"/>
<rect x="898" y="284" width="1" height="1" fill="#000028"/>
<rect x="887" y="285" width="1" height="1" fill="#000028"/>
<rect x="893" y="285" width="1" height="1" fill="#000028"/>
<rect x="898" y="285" width="1" height="1" fill="#000028"/>
<rect x="887" y="286" width="1" height="1" fill="#000028"/>
<rect x="892" y="286" width="1" height="1" fill="#000028"/>
<rect x="898" y="286" width="1" height="1" fill="#000028"/>
<rect x="887" y="287" width="1" height="1" fill="#000028"/>
<rect x="891" y="287" width="1" height="1" fill="#000028"/>
<rect x="898" y="287" width="1" height="1" fill="#000028"/>
<rect x="890" y="288" width="4" height="1" fill="#000028"/>
<rect x="896" y="288" width="3" height="1" fill="#000028"/>
<rect x="548" y="320" width="3" height="1" fill="#ff0000"/>
<rect x="553" y="311" width="1" height="1" fill="#00ff00"/>
<rect x="552" y="312" width="2" height="1" fill="#00ff00"/>
<rect x="553" y="313" width="1" height="1" fill="#00ff00"/>
<rect x="720" y="314" width="1" height="12" fill="#000028"/>
<rect x="743" y="314" width="1" height="12" fill="#000028"/>
<rect x="721" y="314" width="1" height="1" fill="#000028"/>
<rect x="722" y="315" width="1" height="1" fill="#000028"/>
<rect x="723" y="315" width="1" height="1" fill="#000028"/>
<rect x="724" y="316" width="1" height="1" fill="#000028"/>
<rect x="725" y="316" width="1" height="1" fill="#000028"/>
<rect x="726" y="317" width="1" height="1" fill="#000028"/>
<rect x="727" y="317" width="1" height="1" fill="#000028"/>
<rect x="728" y="318" width="1" height="1" fill="#000028"/>
<rect x="729" y="318" width="1" height="1" fill="#000028"/>
<rect x="730" y="319" width="1" height="1" fill="#000028"/>
<rect x="731" y="319" width="1" height="1" fill="#000028"/>
<rect x="732" y="320" width="1" height="1" fill="#000028"/>
<rect x="733" y="320" width="1" height="1" fill="#000028"/>
<rect x="734" y="321" width="1" height="1" fill="#000028"/>
<rect x="735" y="321" width="1" height="1" fill="#000028"/>
<rect x="736" y="322" width="1" height="1" fill="#000028"/>
<rect x="737" y="322" width="1" height="1" fill="#000028"/>
<rect x="738" y="323" width="1" height="1" fill="#000028"/>
<rect x="739" y="323" width="1" height="1" fill="#000028"/>
<rect x="740" y="324" width="1" height="1" fill="#000028"/>
<rect x="741" y="324" width="1" height="1" fill="#000028"/>
<rect x="742" y="325" width="1" height="1" fill="#000028"/>
<rect x="721" y="325" width="1" height="1" fill="#000028"/>
<rect x="722" y="324" width="1" height="1" fill="#000028"/>
<rect x="723" y="324" width="1" height="1" fill="#000028"/>
<rect x="724" y="323" width="1" height="1" fill="#000028"/>
<rect x="725" y="323" width="1" height="1" fill="#000028"/>
<rect x="726" y="322" width="1" height="1" fill="#000028"/>
<rect x="727" y="322" width="1" height="1" fill="#000028"/>
<rect x="728" y="321" width="1" height="1" fill="#000028"/>
<rect x="729" y="321" width="1" height="1" fill="#000028"/>
<rect x="730" y="320" width="1" height="1" fill="#000028"/>
<rect x="731" y="320" width="1" height="1" fill="#000028"/>
<rect x="732" y="319" width="1" height="1" fill="#000028"/>
<rect x="733" y="319" width="1" height="1" fill="#000028"/>
<rect x="734" y="318" width="1" height="1" fill="#000028"/>
<rect x="735" y="318" width="1" height="1" fill="#000028"/>
<rect x="736" y="317" width="1" height="1" fill="#000028"/>
<rect x="737" y="317" width="1" height="1" fill="#000028"/>
<rect x="738" y="316" width="1" height="1" fill="#000028"/>
<rect x="739" y="316" width="1" height="1" fill="#000028"/>
<rect x="740" y="315" width="1" height="1" fill="#000028"/>
<rect x="741" y="315" width="1" height="1" fill="#000028"/>
<rect x="742" y="314" width="1" height="1" fill="#000028"/>
<rect x="725" y="324" width="1" height="1" fill="#000028"/>
<rect x="726" y="325" width="1" height="1" fill="#000028"/>
<rect x="727" y="326" width="1" height="1" fill="#000028"/>
<rect x="728" y="327" width="1" height="1" fill="#000028"/>
<rect x="729" y="328" width="1" height="1" fill="#000028"/>
<rect x="730" y="329" width="1" height="1" fill="#000028"/>
<rect x="731" y="330" width="1" height="1" fill="#000028"/>
<rect x="732" y="331" width="1" height="1" fill="#000028"/>
<rect x="732" y="331" width="1" height="1" fill="#000028"/>
<rect x="733" y="330" width="1" height="1" fill="#000028"/>
<rect x="734" y="329" width="1" height="1" fill="#000028"/>
<rect x="735" y="328" width="1" height="1" fill="#000028"/>
<rect x="736" y="327" width="1" height="1" fill="#000028"/>
<rect x="737" y="326" width="1" height="1" fill="#000028"/>
<rect x="738" y="325" width="1" height="1" fill="#000028"/>
<rect x="739" y="324" width="1" height="1" fill="#000028"/>
<rect x="717" y="320" width="3" height="1" fill="#000028"/>
<rect x="744" y="320" width="2" height="1" fill="#000028"/>
<rect x="717" y="320" width="3" height="1" fill="#ff0000"/>
<rect x="744" y="320" width="3" height="1" fill="#ff0000"/>
<rect x="732" y="317" width="1" height="3" fill="#ff0000"/>
<rect x="732" y="331" width="1" height="3" fill="#ff0000"/>
<rect x="716" y="322" width="2" height="1" fill="#00ff00"/>
<rect x="717" y="323" width="1" height="1" fill="#00ff00"/>
<rect x="745" y="322" width="2" height="1" fill="#00ff00"/>
<rect x="745" y="323" width="1" height="1" fill="#00ff00"/>
<rect x="745" y="324" width="1" height="1" fill="#00ff00"/>
<rect x="733" y="314" width="2" height="1" fill="#00ff00"/>
<rect x="734" y="315" width="1" height="1" fill="#00ff00"/>
<rect x="734" y="316" width="1" height="1" fill="#00ff00"/>
<rect x="733" y="332" width="1" height="1" fill="#00ff00"/>
<rect x="735" y="332" width="1" height="1" fill="#00ff00"/>
<rect x="733" y="333" width="2" height="1" fill="#00ff00"/>
<rect x="733" y="334" width="1" height="1" fill="#00ff00"/>
<rect x="707" y="329" width="1" height="1" fill="#000028"/>
<rect x="715" y="329" width="1" height="1" fill="#000028"/>
<rect x="707" y="330" width="1" height="1" fill="#000028"/>
<rect x="711" y="330" width="1" height="1" fill="#000028"/>
<rect x="714" y="330" width="2" height="1" fill="#000028"/>
<rect x="707" y="331" width="1" height="1" fill="#000028"/>
<rect x="711" y="331" width="1" height="1" fill="#000028"/>
<rect x="713" y="331" width="1" height="1" fill="#000028"/>
<rect x="715" y="331" width="1" height="1" fill="#000028"/>
<rect x="708" y="332" width="1" height="1" fill="#000028"/>
<rect x="710" y="332" width="1" height="1" fill="#000028"/>
<rect x="715" y="332" width="1" height="1" fill="#000028"/>
<rect x="708" y="333" width="1" height="1" fill="#000028"/>
<rect x="710" y="333" width="1" height="1" fill="#000028"/>
<rect x="715" y="333" width="1" height="1" fill="#000028"/>
<rect x="708" y="334" width="1" height="1" fill="#000028"/>
<rect x="710" y="334" width="1" height="1" fill="#000028"/>
<rect x="715" y="334" width="1" height="1" fill="#000028"/>
<rect x="708" y="335" width="1" height="1" fill="#000028"/>
<rect x="710" y="335" width="1" height="1" fill="#000028"/>
<rect x="715" y="335" width="1" height="1" fill="#000028"/>
<rect x="709" y="336" width="1" height="1" fill="#000028"/>
<rect x="715" y="336" width="1" height="1" fill="#000028"/>
<rect x="709" y="337" width="1" height="1" fill="#000028"/>
<rect x="715" y="337" width="1" height="1" fill="#000028"/>
<rect x="709" y="338" width="1" height="1" fill="#000028"/>
</svg>
</body></html>
